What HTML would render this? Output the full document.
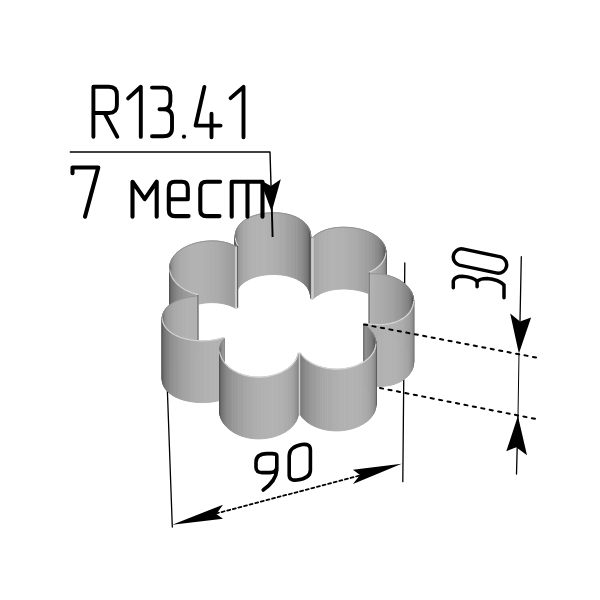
<!DOCTYPE html>
<html><head><meta charset="utf-8"><style>
html,body{margin:0;padding:0;background:#fff;width:600px;height:600px;overflow:hidden;font-family:"Liberation Sans",sans-serif}
svg{display:block}
</style></head><body>
<svg width="600" height="600" viewBox="0 0 600 600">
<rect width="600" height="600" fill="#fff"/>
<g fill="none" stroke="#000" stroke-linecap="round">
<path d="M167 380L172.3 527" stroke-width="1.3"/>
<path d="M404.8 263L402.8 481.7" stroke-width="1.3"/>
</g>
<g id="shape">
<path d="M272.21 274.50L274.06 274.49L274.06 212.75L272.21 212.75Z" fill="#afafaf" stroke="#afafaf" stroke-width="0.9"/>
<path d="M272.21 212.75L274.06 212.75" stroke="#8c8c8c" stroke-width="0.8" stroke-linecap="round" fill="none"/>
<path d="M270.36 274.55L272.21 274.50L272.21 212.75L270.36 212.81Z" fill="#b0b0b0" stroke="#b0b0b0" stroke-width="0.9"/>
<path d="M270.36 212.81L272.21 212.75" stroke="#8c8c8c" stroke-width="0.8" stroke-linecap="round" fill="none"/>
<path d="M274.06 274.49L275.91 274.53L275.91 212.79L274.06 212.75Z" fill="#aeaeae" stroke="#aeaeae" stroke-width="0.9"/>
<path d="M274.06 212.75L275.91 212.79" stroke="#8c8c8c" stroke-width="0.8" stroke-linecap="round" fill="none"/>
<path d="M268.52 274.66L270.36 274.55L270.36 212.81L268.52 212.92Z" fill="#b1b1b1" stroke="#b1b1b1" stroke-width="0.9"/>
<path d="M268.52 212.92L270.36 212.81" stroke="#8c8c8c" stroke-width="0.8" stroke-linecap="round" fill="none"/>
<path d="M275.91 274.53L277.75 274.62L277.75 212.88L275.91 212.79Z" fill="#adadad" stroke="#adadad" stroke-width="0.9"/>
<path d="M275.91 212.79L277.75 212.88" stroke="#8c8c8c" stroke-width="0.8" stroke-linecap="round" fill="none"/>
<path d="M266.68 274.81L268.52 274.66L268.52 212.92L266.68 213.07Z" fill="#b1b1b1" stroke="#b1b1b1" stroke-width="0.9"/>
<path d="M266.68 213.07L268.52 212.92" stroke="#8c8c8c" stroke-width="0.8" stroke-linecap="round" fill="none"/>
<path d="M277.75 274.62L279.59 274.77L279.59 213.02L277.75 212.88Z" fill="#acacac" stroke="#acacac" stroke-width="0.9"/>
<path d="M277.75 212.88L279.59 213.02" stroke="#8c8c8c" stroke-width="0.8" stroke-linecap="round" fill="none"/>
<path d="M264.87 275.02L266.68 274.81L266.68 213.07L264.87 213.27Z" fill="#b2b2b2" stroke="#b2b2b2" stroke-width="0.9"/>
<path d="M264.87 213.27L266.68 213.07" stroke="#8c8c8c" stroke-width="0.8" stroke-linecap="round" fill="none"/>
<path d="M279.59 274.77L281.40 274.96L281.40 213.22L279.59 213.02Z" fill="#ababab" stroke="#ababab" stroke-width="0.9"/>
<path d="M279.59 213.02L281.40 213.22" stroke="#8c8c8c" stroke-width="0.8" stroke-linecap="round" fill="none"/>
<path d="M263.07 275.27L264.87 275.02L264.87 213.27L263.07 213.53Z" fill="#b2b2b2" stroke="#b2b2b2" stroke-width="0.9"/>
<path d="M263.07 213.53L264.87 213.27" stroke="#8c8c8c" stroke-width="0.8" stroke-linecap="round" fill="none"/>
<path d="M281.40 274.96L283.20 275.20L283.20 213.46L281.40 213.22Z" fill="#a9a9a9" stroke="#a9a9a9" stroke-width="0.9"/>
<path d="M281.40 213.22L283.20 213.46" stroke="#8c8c8c" stroke-width="0.8" stroke-linecap="round" fill="none"/>
<path d="M261.30 275.57L263.07 275.27L263.07 213.53L261.30 213.83Z" fill="#b2b2b2" stroke="#b2b2b2" stroke-width="0.9"/>
<path d="M261.30 213.83L263.07 213.53" stroke="#8c8c8c" stroke-width="0.8" stroke-linecap="round" fill="none"/>
<path d="M283.20 275.20L284.97 275.50L284.97 213.75L283.20 213.46Z" fill="#a8a8a8" stroke="#a8a8a8" stroke-width="0.9"/>
<path d="M283.20 213.46L284.97 213.75" stroke="#8c8c8c" stroke-width="0.8" stroke-linecap="round" fill="none"/>
<path d="M259.55 275.92L261.30 275.57L261.30 213.83L259.55 214.18Z" fill="#b2b2b2" stroke="#b2b2b2" stroke-width="0.9"/>
<path d="M259.55 214.18L261.30 213.83" stroke="#8c8c8c" stroke-width="0.8" stroke-linecap="round" fill="none"/>
<path d="M284.97 275.50L286.71 275.84L286.71 214.10L284.97 213.75Z" fill="#a6a6a6" stroke="#a6a6a6" stroke-width="0.9"/>
<path d="M284.97 213.75L286.71 214.10" stroke="#8c8c8c" stroke-width="0.8" stroke-linecap="round" fill="none"/>
<path d="M257.84 276.32L259.55 275.92L259.55 214.18L257.84 214.58Z" fill="#b2b2b2" stroke="#b2b2b2" stroke-width="0.9"/>
<path d="M257.84 214.58L259.55 214.18" stroke="#8c8c8c" stroke-width="0.8" stroke-linecap="round" fill="none"/>
<path d="M286.71 275.84L288.42 276.24L288.42 214.50L286.71 214.10Z" fill="#a4a4a4" stroke="#a4a4a4" stroke-width="0.9"/>
<path d="M286.71 214.10L288.42 214.50" stroke="#8c8c8c" stroke-width="0.8" stroke-linecap="round" fill="none"/>
<path d="M256.17 276.77L257.84 276.32L257.84 214.58L256.17 215.03Z" fill="#b2b2b2" stroke="#b2b2b2" stroke-width="0.9"/>
<path d="M256.17 215.03L257.84 214.58" stroke="#8c8c8c" stroke-width="0.8" stroke-linecap="round" fill="none"/>
<path d="M288.42 276.24L290.09 276.69L290.09 214.95L288.42 214.50Z" fill="#a2a2a2" stroke="#a2a2a2" stroke-width="0.9"/>
<path d="M288.42 214.50L290.09 214.95" stroke="#8c8c8c" stroke-width="0.8" stroke-linecap="round" fill="none"/>
<path d="M254.53 277.27L256.17 276.77L256.17 215.03L254.53 215.52Z" fill="#b2b2b2" stroke="#b2b2b2" stroke-width="0.9"/>
<path d="M254.53 215.52L256.17 215.03" stroke="#8c8c8c" stroke-width="0.8" stroke-linecap="round" fill="none"/>
<path d="M290.09 276.69L291.72 277.19L291.72 215.45L290.09 214.95Z" fill="#a0a0a0" stroke="#a0a0a0" stroke-width="0.9"/>
<path d="M290.09 214.95L291.72 215.45" stroke="#8c8c8c" stroke-width="0.8" stroke-linecap="round" fill="none"/>
<path d="M252.94 277.81L254.53 277.27L254.53 215.52L252.94 216.07Z" fill="#b1b1b1" stroke="#b1b1b1" stroke-width="0.9"/>
<path d="M252.94 216.07L254.53 215.52" stroke="#8c8c8c" stroke-width="0.8" stroke-linecap="round" fill="none"/>
<path d="M291.72 277.19L293.31 277.74L293.31 216.00L291.72 215.45Z" fill="#9e9e9e" stroke="#9e9e9e" stroke-width="0.9"/>
<path d="M291.72 215.45L293.31 216.00" stroke="#8c8c8c" stroke-width="0.8" stroke-linecap="round" fill="none"/>
<path d="M251.40 278.41L252.94 277.81L252.94 216.07L251.40 216.67Z" fill="#b1b1b1" stroke="#b1b1b1" stroke-width="0.9"/>
<path d="M251.40 216.67L252.94 216.07" stroke="#8c8c8c" stroke-width="0.8" stroke-linecap="round" fill="none"/>
<path d="M293.31 277.74L294.84 278.34L294.84 216.60L293.31 216.00Z" fill="#9c9c9c" stroke="#9c9c9c" stroke-width="0.9"/>
<path d="M293.31 216.00L294.84 216.60" stroke="#8c8c8c" stroke-width="0.8" stroke-linecap="round" fill="none"/>
<path d="M249.91 279.05L251.40 278.41L251.40 216.67L249.91 217.31Z" fill="#b0b0b0" stroke="#b0b0b0" stroke-width="0.9"/>
<path d="M249.91 217.31L251.40 216.67" stroke="#8c8c8c" stroke-width="0.8" stroke-linecap="round" fill="none"/>
<path d="M294.84 278.34L296.32 279.00L296.32 217.25L294.84 216.60Z" fill="#9a9a9a" stroke="#9a9a9a" stroke-width="0.9"/>
<path d="M294.84 216.60L296.32 217.25" stroke="#8c8c8c" stroke-width="0.8" stroke-linecap="round" fill="none"/>
<path d="M248.48 279.74L249.91 279.05L249.91 217.31L248.48 218.00Z" fill="#afafaf" stroke="#afafaf" stroke-width="0.9"/>
<path d="M248.48 218.00L249.91 217.31" stroke="#8c8c8c" stroke-width="0.8" stroke-linecap="round" fill="none"/>
<path d="M296.32 279.00L297.75 279.70L297.75 217.96L296.32 217.25Z" fill="#979797" stroke="#979797" stroke-width="0.9"/>
<path d="M296.32 217.25L297.75 217.96" stroke="#8c8c8c" stroke-width="0.8" stroke-linecap="round" fill="none"/>
<path d="M247.10 280.48L248.48 279.74L248.48 218.00L247.10 218.74Z" fill="#adadad" stroke="#adadad" stroke-width="0.9"/>
<path d="M247.10 218.74L248.48 218.00" stroke="#8c8c8c" stroke-width="0.8" stroke-linecap="round" fill="none"/>
<path d="M297.75 279.70L299.11 280.45L299.11 218.71L297.75 217.96Z" fill="#949494" stroke="#949494" stroke-width="0.9"/>
<path d="M297.75 217.96L299.11 218.71" stroke="#8c8c8c" stroke-width="0.8" stroke-linecap="round" fill="none"/>
<path d="M245.79 281.26L247.10 280.48L247.10 218.74L245.79 219.52Z" fill="#acacac" stroke="#acacac" stroke-width="0.9"/>
<path d="M245.79 219.52L247.10 218.74" stroke="#8c8c8c" stroke-width="0.8" stroke-linecap="round" fill="none"/>
<path d="M299.11 280.45L300.42 281.24L300.42 219.50L299.11 218.71Z" fill="#929292" stroke="#929292" stroke-width="0.9"/>
<path d="M299.11 218.71L300.42 219.50" stroke="#8c8c8c" stroke-width="0.8" stroke-linecap="round" fill="none"/>
<path d="M244.54 282.09L245.79 281.26L245.79 219.52L244.54 220.35Z" fill="#aaaaaa" stroke="#aaaaaa" stroke-width="0.9"/>
<path d="M244.54 220.35L245.79 219.52" stroke="#8c8c8c" stroke-width="0.8" stroke-linecap="round" fill="none"/>
<path d="M300.42 281.24L301.65 282.08L301.65 220.34L300.42 219.50Z" fill="#8f8f8f" stroke="#8f8f8f" stroke-width="0.9"/>
<path d="M300.42 219.50L301.65 220.34" stroke="#8c8c8c" stroke-width="0.8" stroke-linecap="round" fill="none"/>
<path d="M243.36 282.96L244.54 282.09L244.54 220.35L243.36 221.21Z" fill="#a9a9a9" stroke="#a9a9a9" stroke-width="0.9"/>
<path d="M243.36 221.21L244.54 220.35" stroke="#8c8c8c" stroke-width="0.8" stroke-linecap="round" fill="none"/>
<path d="M301.65 282.08L302.82 282.97L302.82 221.23L301.65 220.34Z" fill="#8c8c8c" stroke="#8c8c8c" stroke-width="0.9"/>
<path d="M301.65 220.34L302.82 221.23" stroke="#8c8c8c" stroke-width="0.8" stroke-linecap="round" fill="none"/>
<path d="M242.25 283.87L243.36 282.96L243.36 221.21L242.25 222.13Z" fill="#a7a7a7" stroke="#a7a7a7" stroke-width="0.9"/>
<path d="M242.25 222.13L243.36 221.21" stroke="#8c8c8c" stroke-width="0.8" stroke-linecap="round" fill="none"/>
<path d="M302.82 282.97L303.91 283.89L303.91 222.15L302.82 221.23Z" fill="#888888" stroke="#888888" stroke-width="0.9"/>
<path d="M302.82 221.23L303.91 222.15" stroke="#8c8c8c" stroke-width="0.8" stroke-linecap="round" fill="none"/>
<path d="M241.21 284.82L242.25 283.87L242.25 222.13L241.21 223.08Z" fill="#a4a4a4" stroke="#a4a4a4" stroke-width="0.9"/>
<path d="M241.21 223.08L242.25 222.13" stroke="#8c8c8c" stroke-width="0.8" stroke-linecap="round" fill="none"/>
<path d="M303.91 283.89L304.93 284.86L304.93 223.11L303.91 222.15Z" fill="#858585" stroke="#858585" stroke-width="0.9"/>
<path d="M303.91 222.15L304.93 223.11" stroke="#8c8c8c" stroke-width="0.8" stroke-linecap="round" fill="none"/>
<path d="M240.25 285.81L241.21 284.82L241.21 223.08L240.25 224.06Z" fill="#a2a2a2" stroke="#a2a2a2" stroke-width="0.9"/>
<path d="M240.25 224.06L241.21 223.08" stroke="#8c8c8c" stroke-width="0.8" stroke-linecap="round" fill="none"/>
<path d="M304.93 284.86L305.87 285.85L305.87 224.11L304.93 223.11Z" fill="#818181" stroke="#818181" stroke-width="0.9"/>
<path d="M304.93 223.11L305.87 224.11" stroke="#8c8c8c" stroke-width="0.8" stroke-linecap="round" fill="none"/>
<path d="M239.37 286.83L240.25 285.81L240.25 224.06L239.37 225.09Z" fill="#9f9f9f" stroke="#9f9f9f" stroke-width="0.9"/>
<path d="M239.37 225.09L240.25 224.06" stroke="#8c8c8c" stroke-width="0.8" stroke-linecap="round" fill="none"/>
<path d="M305.87 285.85L306.74 286.88L306.74 225.14L305.87 224.11Z" fill="#7d7d7d" stroke="#7d7d7d" stroke-width="0.9"/>
<path d="M305.87 224.11L306.74 225.14" stroke="#8c8c8c" stroke-width="0.8" stroke-linecap="round" fill="none"/>
<path d="M238.57 287.89L239.37 286.83L239.37 225.09L238.57 226.14Z" fill="#9c9c9c" stroke="#9c9c9c" stroke-width="0.9"/>
<path d="M238.57 226.14L239.37 225.09" stroke="#8c8c8c" stroke-width="0.8" stroke-linecap="round" fill="none"/>
<path d="M306.74 286.88L307.52 287.95L307.52 226.20L306.74 225.14Z" fill="#797979" stroke="#797979" stroke-width="0.9"/>
<path d="M306.74 225.14L307.52 226.20" stroke="#8c8c8c" stroke-width="0.8" stroke-linecap="round" fill="none"/>
<path d="M345.20 289.03L347.13 289.10L347.13 227.36L345.20 227.29Z" fill="#b0b0b0" stroke="#b0b0b0" stroke-width="0.9"/>
<path d="M345.20 227.29L347.13 227.36" stroke="#8c8c8c" stroke-width="0.8" stroke-linecap="round" fill="none"/>
<path d="M347.13 289.10L349.05 289.22L349.05 227.48L347.13 227.36Z" fill="#afafaf" stroke="#afafaf" stroke-width="0.9"/>
<path d="M347.13 227.36L349.05 227.48" stroke="#8c8c8c" stroke-width="0.8" stroke-linecap="round" fill="none"/>
<path d="M343.27 289.01L345.20 289.03L345.20 227.29L343.27 227.27Z" fill="#b0b0b0" stroke="#b0b0b0" stroke-width="0.9"/>
<path d="M343.27 227.27L345.20 227.29" stroke="#8c8c8c" stroke-width="0.8" stroke-linecap="round" fill="none"/>
<path d="M237.85 288.97L238.57 287.89L238.57 226.14L237.85 227.23Z" fill="#989898" stroke="#989898" stroke-width="0.9"/>
<path d="M237.85 227.23L238.57 226.14" stroke="#8c8c8c" stroke-width="0.8" stroke-linecap="round" fill="none"/>
<path d="M349.05 289.22L350.97 289.39L350.97 227.65L349.05 227.48Z" fill="#aeaeae" stroke="#aeaeae" stroke-width="0.9"/>
<path d="M349.05 227.48L350.97 227.65" stroke="#8c8c8c" stroke-width="0.8" stroke-linecap="round" fill="none"/>
<path d="M341.36 289.05L343.27 289.01L343.27 227.27L341.36 227.30Z" fill="#b1b1b1" stroke="#b1b1b1" stroke-width="0.9"/>
<path d="M341.36 227.30L343.27 227.27" stroke="#8c8c8c" stroke-width="0.8" stroke-linecap="round" fill="none"/>
<path d="M350.97 289.39L352.88 289.61L352.88 227.87L350.97 227.65Z" fill="#adadad" stroke="#adadad" stroke-width="0.9"/>
<path d="M350.97 227.65L352.88 227.87" stroke="#8c8c8c" stroke-width="0.8" stroke-linecap="round" fill="none"/>
<path d="M339.45 289.13L341.36 289.05L341.36 227.30L339.45 227.39Z" fill="#b2b2b2" stroke="#b2b2b2" stroke-width="0.9"/>
<path d="M339.45 227.39L341.36 227.30" stroke="#8c8c8c" stroke-width="0.8" stroke-linecap="round" fill="none"/>
<path d="M352.88 289.61L354.78 289.88L354.78 228.14L352.88 227.87Z" fill="#ababab" stroke="#ababab" stroke-width="0.9"/>
<path d="M352.88 227.87L354.78 228.14" stroke="#8c8c8c" stroke-width="0.8" stroke-linecap="round" fill="none"/>
<path d="M337.57 289.27L339.45 289.13L339.45 227.39L337.57 227.53Z" fill="#b2b2b2" stroke="#b2b2b2" stroke-width="0.9"/>
<path d="M337.57 227.53L339.45 227.39" stroke="#8c8c8c" stroke-width="0.8" stroke-linecap="round" fill="none"/>
<path d="M354.78 289.88L356.65 290.20L356.65 228.45L354.78 228.14Z" fill="#aaaaaa" stroke="#aaaaaa" stroke-width="0.9"/>
<path d="M354.78 228.14L356.65 228.45" stroke="#8c8c8c" stroke-width="0.8" stroke-linecap="round" fill="none"/>
<path d="M335.70 289.46L337.57 289.27L337.57 227.53L335.70 227.72Z" fill="#b2b2b2" stroke="#b2b2b2" stroke-width="0.9"/>
<path d="M335.70 227.72L337.57 227.53" stroke="#8c8c8c" stroke-width="0.8" stroke-linecap="round" fill="none"/>
<path d="M307.52 287.95L308.21 289.04L308.21 227.29L307.52 226.20Z" fill="#757575" stroke="#757575" stroke-width="0.9"/>
<path d="M307.52 226.20L308.21 227.29" stroke="#8c8c8c" stroke-width="0.8" stroke-linecap="round" fill="none"/>
<path d="M356.65 290.20L358.50 290.56L358.50 228.82L356.65 228.45Z" fill="#a9a9a9" stroke="#a9a9a9" stroke-width="0.9"/>
<path d="M356.65 228.45L358.50 228.82" stroke="#8c8c8c" stroke-width="0.8" stroke-linecap="round" fill="none"/>
<path d="M333.87 289.71L335.70 289.46L335.70 227.72L333.87 227.97Z" fill="#b2b2b2" stroke="#b2b2b2" stroke-width="0.9"/>
<path d="M333.87 227.97L335.70 227.72" stroke="#8c8c8c" stroke-width="0.8" stroke-linecap="round" fill="none"/>
<path d="M237.22 290.09L237.85 288.97L237.85 227.23L237.22 228.35Z" fill="#949494" stroke="#949494" stroke-width="0.9"/>
<path d="M237.22 228.35L237.85 227.23" stroke="#8c8c8c" stroke-width="0.8" stroke-linecap="round" fill="none"/>
<path d="M358.50 290.56L360.33 290.97L360.33 229.23L358.50 228.82Z" fill="#a7a7a7" stroke="#a7a7a7" stroke-width="0.9"/>
<path d="M358.50 228.82L360.33 229.23" stroke="#8c8c8c" stroke-width="0.8" stroke-linecap="round" fill="none"/>
<path d="M332.06 290.01L333.87 289.71L333.87 227.97L332.06 228.27Z" fill="#b2b2b2" stroke="#b2b2b2" stroke-width="0.9"/>
<path d="M332.06 228.27L333.87 227.97" stroke="#8c8c8c" stroke-width="0.8" stroke-linecap="round" fill="none"/>
<path d="M360.33 290.97L362.12 291.44L362.12 229.69L360.33 229.23Z" fill="#a5a5a5" stroke="#a5a5a5" stroke-width="0.9"/>
<path d="M360.33 229.23L362.12 229.69" stroke="#8c8c8c" stroke-width="0.8" stroke-linecap="round" fill="none"/>
<path d="M330.29 290.37L332.06 290.01L332.06 228.27L330.29 228.63Z" fill="#b2b2b2" stroke="#b2b2b2" stroke-width="0.9"/>
<path d="M330.29 228.63L332.06 228.27" stroke="#8c8c8c" stroke-width="0.8" stroke-linecap="round" fill="none"/>
<path d="M308.21 289.04L308.82 290.15L308.82 228.41L308.21 227.29Z" fill="#707070" stroke="#707070" stroke-width="0.9"/>
<path d="M308.21 227.29L308.82 228.41" stroke="#8c8c8c" stroke-width="0.8" stroke-linecap="round" fill="none"/>
<path d="M362.12 291.44L363.87 291.94L363.87 230.20L362.12 229.69Z" fill="#a3a3a3" stroke="#a3a3a3" stroke-width="0.9"/>
<path d="M362.12 229.69L363.87 230.20" stroke="#8c8c8c" stroke-width="0.8" stroke-linecap="round" fill="none"/>
<path d="M236.67 291.23L237.22 290.09L237.22 228.35L236.67 229.49Z" fill="#909090" stroke="#909090" stroke-width="0.9"/>
<path d="M236.67 229.49L237.22 228.35" stroke="#8c8c8c" stroke-width="0.8" stroke-linecap="round" fill="none"/>
<path d="M328.55 290.78L330.29 290.37L330.29 228.63L328.55 229.04Z" fill="#b2b2b2" stroke="#b2b2b2" stroke-width="0.9"/>
<path d="M328.55 229.04L330.29 228.63" stroke="#8c8c8c" stroke-width="0.8" stroke-linecap="round" fill="none"/>
<path d="M363.87 291.94L365.58 292.50L365.58 230.76L363.87 230.20Z" fill="#a1a1a1" stroke="#a1a1a1" stroke-width="0.9"/>
<path d="M363.87 230.20L365.58 230.76" stroke="#8c8c8c" stroke-width="0.8" stroke-linecap="round" fill="none"/>
<path d="M326.86 291.26L328.55 290.78L328.55 229.04L326.86 229.51Z" fill="#b1b1b1" stroke="#b1b1b1" stroke-width="0.9"/>
<path d="M326.86 229.51L328.55 229.04" stroke="#8c8c8c" stroke-width="0.8" stroke-linecap="round" fill="none"/>
<path d="M308.82 290.15L309.35 291.28L309.35 229.54L308.82 228.41Z" fill="#6a6a6a" stroke="#6a6a6a" stroke-width="0.9"/>
<path d="M308.82 228.41L309.35 229.54" stroke="#8c8c8c" stroke-width="0.8" stroke-linecap="round" fill="none"/>
<path d="M365.58 292.50L367.24 293.10L367.24 231.36L365.58 230.76Z" fill="#9f9f9f" stroke="#9f9f9f" stroke-width="0.9"/>
<path d="M365.58 230.76L367.24 231.36" stroke="#8c8c8c" stroke-width="0.8" stroke-linecap="round" fill="none"/>
<path d="M236.21 292.40L236.67 291.23L236.67 229.49L236.21 230.65Z" fill="#8b8b8b" stroke="#8b8b8b" stroke-width="0.9"/>
<path d="M236.21 230.65L236.67 229.49" stroke="#8c8c8c" stroke-width="0.8" stroke-linecap="round" fill="none"/>
<path d="M325.22 291.78L326.86 291.26L326.86 229.51L325.22 230.04Z" fill="#b1b1b1" stroke="#b1b1b1" stroke-width="0.9"/>
<path d="M325.22 230.04L326.86 229.51" stroke="#8c8c8c" stroke-width="0.8" stroke-linecap="round" fill="none"/>
<path d="M367.24 293.10L368.86 293.75L368.86 232.01L367.24 231.36Z" fill="#9d9d9d" stroke="#9d9d9d" stroke-width="0.9"/>
<path d="M367.24 231.36L368.86 232.01" stroke="#8c8c8c" stroke-width="0.8" stroke-linecap="round" fill="none"/>
<path d="M323.63 292.37L325.22 291.78L325.22 230.04L323.63 230.63Z" fill="#b0b0b0" stroke="#b0b0b0" stroke-width="0.9"/>
<path d="M323.63 230.63L325.22 230.04" stroke="#8c8c8c" stroke-width="0.8" stroke-linecap="round" fill="none"/>
<path d="M309.35 291.28L309.78 292.44L309.78 230.70L309.35 229.54Z" fill="#646464" stroke="#646464" stroke-width="0.9"/>
<path d="M309.35 229.54L309.78 230.70" stroke="#8c8c8c" stroke-width="0.8" stroke-linecap="round" fill="none"/>
<path d="M235.84 293.58L236.21 292.40L236.21 230.65L235.84 231.84Z" fill="#858585" stroke="#858585" stroke-width="0.9"/>
<path d="M235.84 231.84L236.21 230.65" stroke="#8c8c8c" stroke-width="0.8" stroke-linecap="round" fill="none"/>
<path d="M368.86 293.75L370.42 294.45L370.42 232.71L368.86 232.01Z" fill="#9b9b9b" stroke="#9b9b9b" stroke-width="0.9"/>
<path d="M368.86 232.01L370.42 232.71" stroke="#8c8c8c" stroke-width="0.8" stroke-linecap="round" fill="none"/>
<path d="M322.10 293.01L323.63 292.37L323.63 230.63L322.10 231.27Z" fill="#afafaf" stroke="#afafaf" stroke-width="0.9"/>
<path d="M322.10 231.27L323.63 230.63" stroke="#8c8c8c" stroke-width="0.8" stroke-linecap="round" fill="none"/>
<path d="M370.42 294.45L371.92 295.19L371.92 233.45L370.42 232.71Z" fill="#999999" stroke="#999999" stroke-width="0.9"/>
<path d="M370.42 232.71L371.92 233.45" stroke="#8c8c8c" stroke-width="0.8" stroke-linecap="round" fill="none"/>
<path d="M309.78 292.44L310.13 293.61L310.13 231.86L309.78 230.70Z" fill="#5d5d5d" stroke="#5d5d5d" stroke-width="0.9"/>
<path d="M309.78 230.70L310.13 231.86" stroke="#8c8c8c" stroke-width="0.8" stroke-linecap="round" fill="none"/>
<path d="M320.62 293.70L322.10 293.01L322.10 231.27L320.62 231.96Z" fill="#aeaeae" stroke="#aeaeae" stroke-width="0.9"/>
<path d="M320.62 231.96L322.10 231.27" stroke="#8c8c8c" stroke-width="0.8" stroke-linecap="round" fill="none"/>
<path d="M235.55 294.78L235.84 293.58L235.84 231.84L235.55 233.04Z" fill="#7e7e7e" stroke="#7e7e7e" stroke-width="0.9"/>
<path d="M235.55 233.04L235.84 231.84" stroke="#8c8c8c" stroke-width="0.8" stroke-linecap="round" fill="none"/>
<path d="M371.92 295.19L373.37 295.97L373.37 234.23L371.92 233.45Z" fill="#969696" stroke="#969696" stroke-width="0.9"/>
<path d="M371.92 233.45L373.37 234.23" stroke="#8c8c8c" stroke-width="0.8" stroke-linecap="round" fill="none"/>
<path d="M319.21 294.45L320.62 293.70L320.62 231.96L319.21 232.71Z" fill="#adadad" stroke="#adadad" stroke-width="0.9"/>
<path d="M319.21 232.71L320.62 231.96" stroke="#8c8c8c" stroke-width="0.8" stroke-linecap="round" fill="none"/>
<path d="M310.13 293.61L310.39 294.79L310.39 233.05L310.13 231.86Z" fill="#555555" stroke="#555555" stroke-width="0.9"/>
<path d="M310.13 231.86L310.39 233.05" stroke="#8c8c8c" stroke-width="0.8" stroke-linecap="round" fill="none"/>
<path d="M373.37 295.97L374.74 296.80L374.74 235.06L373.37 234.23Z" fill="#939393" stroke="#939393" stroke-width="0.9"/>
<path d="M373.37 234.23L374.74 235.06" stroke="#8c8c8c" stroke-width="0.8" stroke-linecap="round" fill="none"/>
<path d="M235.36 296.00L235.55 294.78L235.55 233.04L235.36 234.26Z" fill="#767676" stroke="#767676" stroke-width="0.9"/>
<path d="M235.36 234.26L235.55 233.04" stroke="#8c8c8c" stroke-width="0.8" stroke-linecap="round" fill="none"/>
<path d="M317.87 295.25L319.21 294.45L319.21 232.71L317.87 233.51Z" fill="#ababab" stroke="#ababab" stroke-width="0.9"/>
<path d="M317.87 233.51L319.21 232.71" stroke="#8c8c8c" stroke-width="0.8" stroke-linecap="round" fill="none"/>
<path d="M374.74 296.80L376.05 297.67L376.05 235.93L374.74 235.06Z" fill="#909090" stroke="#909090" stroke-width="0.9"/>
<path d="M374.74 235.06L376.05 235.93" stroke="#8c8c8c" stroke-width="0.8" stroke-linecap="round" fill="none"/>
<path d="M310.39 294.79L310.55 295.98L310.55 234.24L310.39 233.05Z" fill="#4b4b4b" stroke="#4b4b4b" stroke-width="0.9"/>
<path d="M310.39 233.05L310.55 234.24" stroke="#8c8c8c" stroke-width="0.8" stroke-linecap="round" fill="none"/>
<path d="M316.59 296.10L317.87 295.25L317.87 233.51L316.59 234.36Z" fill="#a9a9a9" stroke="#a9a9a9" stroke-width="0.9"/>
<path d="M316.59 234.36L317.87 233.51" stroke="#8c8c8c" stroke-width="0.8" stroke-linecap="round" fill="none"/>
<path d="M235.25 297.22L235.36 296.00L235.36 234.26L235.25 235.48Z" fill="#6b6b6b" stroke="#6b6b6b" stroke-width="0.9"/>
<path d="M235.25 235.48L235.36 234.26" stroke="#8c8c8c" stroke-width="0.8" stroke-linecap="round" fill="none"/>
<path d="M376.05 297.67L377.29 298.58L377.29 236.83L376.05 235.93Z" fill="#8d8d8d" stroke="#8d8d8d" stroke-width="0.9"/>
<path d="M376.05 235.93L377.29 236.83" stroke="#8c8c8c" stroke-width="0.8" stroke-linecap="round" fill="none"/>
<path d="M315.38 297.00L316.59 296.10L316.59 234.36L315.38 235.25Z" fill="#a7a7a7" stroke="#a7a7a7" stroke-width="0.9"/>
<path d="M315.38 235.25L316.59 234.36" stroke="#8c8c8c" stroke-width="0.8" stroke-linecap="round" fill="none"/>
<path d="M310.55 295.98L310.63 297.18L310.63 235.44L310.55 234.24Z" fill="#3c3c3c" stroke="#3c3c3c" stroke-width="0.9"/>
<path d="M310.55 234.24L310.63 235.44" stroke="#8c8c8c" stroke-width="0.8" stroke-linecap="round" fill="none"/>
<path d="M235.24 298.46L235.25 297.22L235.25 235.48L235.24 236.72Z" fill="#5b5b5b" stroke="#5b5b5b" stroke-width="0.9"/>
<path d="M235.24 236.72L235.25 235.48" stroke="#8c8c8c" stroke-width="0.8" stroke-linecap="round" fill="none"/>
<path d="M377.29 298.58L378.46 299.52L378.46 237.78L377.29 236.83Z" fill="#8a8a8a" stroke="#8a8a8a" stroke-width="0.9"/>
<path d="M377.29 236.83L378.46 237.78" stroke="#8c8c8c" stroke-width="0.8" stroke-linecap="round" fill="none"/>
<path d="M314.25 297.94L315.38 297.00L315.38 235.25L314.25 236.19Z" fill="#a5a5a5" stroke="#a5a5a5" stroke-width="0.9"/>
<path d="M314.25 236.19L315.38 235.25" stroke="#8c8c8c" stroke-width="0.8" stroke-linecap="round" fill="none"/>
<path d="M310.63 297.18L310.61 298.38L310.61 236.64L310.63 235.44Z" fill="#494949" stroke="#494949" stroke-width="0.9"/>
<path d="M310.63 235.44L310.61 236.64" stroke="#d8d8d8" stroke-width="1.1" stroke-linecap="round" fill="none"/>
<path d="M235.31 299.70L235.24 298.46L235.24 236.72L235.31 237.96Z" fill="#2f2f2f" stroke="#2f2f2f" stroke-width="0.9"/>
<path d="M235.31 237.96L235.24 236.72" stroke="#d8d8d8" stroke-width="1.1" stroke-linecap="round" fill="none"/>
<path d="M378.46 299.52L379.55 300.50L379.55 238.76L378.46 237.78Z" fill="#878787" stroke="#878787" stroke-width="0.9"/>
<path d="M378.46 237.78L379.55 238.76" stroke="#8c8c8c" stroke-width="0.8" stroke-linecap="round" fill="none"/>
<path d="M310.63 297.18L310.63 235.44" stroke="#505050" stroke-width="1.0" fill="none"/>
<path d="M313.20 298.92L314.25 297.94L314.25 236.19L313.20 237.18Z" fill="#a3a3a3" stroke="#a3a3a3" stroke-width="0.9"/>
<path d="M313.20 237.18L314.25 236.19" stroke="#8c8c8c" stroke-width="0.8" stroke-linecap="round" fill="none"/>
<path d="M235.24 298.46L235.24 236.72" stroke="#505050" stroke-width="1.0" fill="none"/>
<path d="M310.61 298.38L310.87 298.93L310.87 237.19L310.61 236.64Z" fill="#cdcdcd" stroke="#cdcdcd" stroke-width="0.9"/>
<path d="M310.61 236.64L310.87 237.19" stroke="#8c8c8c" stroke-width="0.8" stroke-linecap="round" fill="none"/>
<path d="M379.55 300.50L380.55 301.52L380.55 239.77L379.55 238.76Z" fill="#838383" stroke="#838383" stroke-width="0.9"/>
<path d="M379.55 238.76L380.55 239.77" stroke="#8c8c8c" stroke-width="0.8" stroke-linecap="round" fill="none"/>
<path d="M312.50 299.27L313.20 298.92L313.20 237.18L312.50 237.53Z" fill="#cdcdcd" stroke="#cdcdcd" stroke-width="0.9"/>
<path d="M312.50 237.53L313.20 237.18" stroke="#8c8c8c" stroke-width="0.8" stroke-linecap="round" fill="none"/>
<path d="M310.87 298.93L311.60 299.28L311.60 237.54L310.87 237.19Z" fill="#cdcdcd" stroke="#cdcdcd" stroke-width="0.9"/>
<path d="M310.87 237.19L311.60 237.54" stroke="#8c8c8c" stroke-width="0.8" stroke-linecap="round" fill="none"/>
<path d="M235.48 300.94L235.31 299.70L235.31 237.96L235.48 239.20Z" fill="#444444" stroke="#444444" stroke-width="0.9"/>
<path d="M235.48 239.20L235.31 237.96" stroke="#d8d8d8" stroke-width="1.1" stroke-linecap="round" fill="none"/>
<path d="M311.60 299.28L312.50 299.27L312.50 237.53L311.60 237.54Z" fill="#cdcdcd" stroke="#cdcdcd" stroke-width="0.9"/>
<path d="M311.60 237.54L312.50 237.53" stroke="#8c8c8c" stroke-width="0.8" stroke-linecap="round" fill="none"/>
<path d="M310.61 298.38L310.61 236.64" stroke="#505050" stroke-width="1.0" fill="none"/>
<path d="M380.55 301.52L381.48 302.56L381.48 240.82L380.55 239.77Z" fill="#808080" stroke="#808080" stroke-width="0.9"/>
<path d="M380.55 239.77L381.48 240.82" stroke="#8c8c8c" stroke-width="0.8" stroke-linecap="round" fill="none"/>
<path d="M235.73 302.18L235.48 300.94L235.48 239.20L235.73 240.43Z" fill="#505050" stroke="#505050" stroke-width="0.9"/>
<path d="M235.73 240.43L235.48 239.20" stroke="#d8d8d8" stroke-width="1.1" stroke-linecap="round" fill="none"/>
<path d="M208.45 302.75L210.42 302.66L210.42 240.92L208.45 241.01Z" fill="#b0b0b0" stroke="#b0b0b0" stroke-width="0.9"/>
<path d="M208.45 241.01L210.42 240.92" stroke="#8c8c8c" stroke-width="0.8" stroke-linecap="round" fill="none"/>
<path d="M210.42 302.66L212.39 302.64L212.39 240.90L210.42 240.92Z" fill="#afafaf" stroke="#afafaf" stroke-width="0.9"/>
<path d="M210.42 240.92L212.39 240.90" stroke="#8c8c8c" stroke-width="0.8" stroke-linecap="round" fill="none"/>
<path d="M206.48 302.90L208.45 302.75L208.45 241.01L206.48 241.16Z" fill="#b0b0b0" stroke="#b0b0b0" stroke-width="0.9"/>
<path d="M206.48 241.16L208.45 241.01" stroke="#8c8c8c" stroke-width="0.8" stroke-linecap="round" fill="none"/>
<path d="M212.39 302.64L214.35 302.68L214.35 240.93L212.39 240.90Z" fill="#aeaeae" stroke="#aeaeae" stroke-width="0.9"/>
<path d="M212.39 240.90L214.35 240.93" stroke="#8c8c8c" stroke-width="0.8" stroke-linecap="round" fill="none"/>
<path d="M204.52 303.12L206.48 302.90L206.48 241.16L204.52 241.37Z" fill="#b1b1b1" stroke="#b1b1b1" stroke-width="0.9"/>
<path d="M204.52 241.37L206.48 241.16" stroke="#8c8c8c" stroke-width="0.8" stroke-linecap="round" fill="none"/>
<path d="M214.35 302.68L216.30 302.78L216.30 241.04L214.35 240.93Z" fill="#acacac" stroke="#acacac" stroke-width="0.9"/>
<path d="M214.35 240.93L216.30 241.04" stroke="#8c8c8c" stroke-width="0.8" stroke-linecap="round" fill="none"/>
<path d="M202.57 303.39L204.52 303.12L204.52 241.37L202.57 241.64Z" fill="#b2b2b2" stroke="#b2b2b2" stroke-width="0.9"/>
<path d="M202.57 241.64L204.52 241.37" stroke="#8c8c8c" stroke-width="0.8" stroke-linecap="round" fill="none"/>
<path d="M381.48 302.56L382.32 303.64L382.32 241.90L381.48 240.82Z" fill="#7c7c7c" stroke="#7c7c7c" stroke-width="0.9"/>
<path d="M381.48 240.82L382.32 241.90" stroke="#8c8c8c" stroke-width="0.8" stroke-linecap="round" fill="none"/>
<path d="M216.30 302.78L218.23 302.95L218.23 241.20L216.30 241.04Z" fill="#ababab" stroke="#ababab" stroke-width="0.9"/>
<path d="M216.30 241.04L218.23 241.20" stroke="#8c8c8c" stroke-width="0.8" stroke-linecap="round" fill="none"/>
<path d="M200.64 303.71L202.57 303.39L202.57 241.64L200.64 241.97Z" fill="#b2b2b2" stroke="#b2b2b2" stroke-width="0.9"/>
<path d="M200.64 241.97L202.57 241.64" stroke="#8c8c8c" stroke-width="0.8" stroke-linecap="round" fill="none"/>
<path d="M218.23 302.95L220.13 303.18L220.13 241.44L218.23 241.20Z" fill="#aaaaaa" stroke="#aaaaaa" stroke-width="0.9"/>
<path d="M218.23 241.20L220.13 241.44" stroke="#8c8c8c" stroke-width="0.8" stroke-linecap="round" fill="none"/>
<path d="M198.74 304.10L200.64 303.71L200.64 241.97L198.74 242.36Z" fill="#b2b2b2" stroke="#b2b2b2" stroke-width="0.9"/>
<path d="M198.74 242.36L200.64 241.97" stroke="#8c8c8c" stroke-width="0.8" stroke-linecap="round" fill="none"/>
<path d="M236.07 303.41L235.73 302.18L235.73 240.43L236.07 241.67Z" fill="#595959" stroke="#595959" stroke-width="0.9"/>
<path d="M236.07 241.67L235.73 240.43" stroke="#d8d8d8" stroke-width="1.1" stroke-linecap="round" fill="none"/>
<path d="M220.13 303.18L222.01 303.48L222.01 241.74L220.13 241.44Z" fill="#a8a8a8" stroke="#a8a8a8" stroke-width="0.9"/>
<path d="M220.13 241.44L222.01 241.74" stroke="#8c8c8c" stroke-width="0.8" stroke-linecap="round" fill="none"/>
<path d="M196.86 304.54L198.74 304.10L198.74 242.36L196.86 242.79Z" fill="#b2b2b2" stroke="#b2b2b2" stroke-width="0.9"/>
<path d="M196.86 242.79L198.74 242.36" stroke="#8c8c8c" stroke-width="0.8" stroke-linecap="round" fill="none"/>
<path d="M222.01 303.48L223.85 303.84L223.85 242.10L222.01 241.74Z" fill="#a7a7a7" stroke="#a7a7a7" stroke-width="0.9"/>
<path d="M222.01 241.74L223.85 242.10" stroke="#8c8c8c" stroke-width="0.8" stroke-linecap="round" fill="none"/>
<path d="M195.01 305.03L196.86 304.54L196.86 242.79L195.01 243.29Z" fill="#b2b2b2" stroke="#b2b2b2" stroke-width="0.9"/>
<path d="M195.01 243.29L196.86 242.79" stroke="#8c8c8c" stroke-width="0.8" stroke-linecap="round" fill="none"/>
<path d="M382.32 303.64L383.08 304.74L383.08 243.00L382.32 241.90Z" fill="#777777" stroke="#777777" stroke-width="0.9"/>
<path d="M382.32 241.90L383.08 243.00" stroke="#8c8c8c" stroke-width="0.8" stroke-linecap="round" fill="none"/>
<path d="M223.85 303.84L225.65 304.27L225.65 242.53L223.85 242.10Z" fill="#a5a5a5" stroke="#a5a5a5" stroke-width="0.9"/>
<path d="M223.85 242.10L225.65 242.53" stroke="#8c8c8c" stroke-width="0.8" stroke-linecap="round" fill="none"/>
<path d="M193.20 305.57L195.01 305.03L195.01 243.29L193.20 243.83Z" fill="#b2b2b2" stroke="#b2b2b2" stroke-width="0.9"/>
<path d="M193.20 243.83L195.01 243.29" stroke="#8c8c8c" stroke-width="0.8" stroke-linecap="round" fill="none"/>
<path d="M236.49 304.63L236.07 303.41L236.07 241.67L236.49 242.89Z" fill="#616161" stroke="#616161" stroke-width="0.9"/>
<path d="M236.49 242.89L236.07 241.67" stroke="#d8d8d8" stroke-width="1.1" stroke-linecap="round" fill="none"/>
<path d="M225.65 304.27L227.41 304.76L227.41 243.01L225.65 242.53Z" fill="#a3a3a3" stroke="#a3a3a3" stroke-width="0.9"/>
<path d="M225.65 242.53L227.41 243.01" stroke="#8c8c8c" stroke-width="0.8" stroke-linecap="round" fill="none"/>
<path d="M191.44 306.17L193.20 305.57L193.20 243.83L191.44 244.43Z" fill="#b2b2b2" stroke="#b2b2b2" stroke-width="0.9"/>
<path d="M191.44 244.43L193.20 243.83" stroke="#8c8c8c" stroke-width="0.8" stroke-linecap="round" fill="none"/>
<path d="M383.08 304.74L383.75 305.86L383.75 244.12L383.08 243.00Z" fill="#737373" stroke="#737373" stroke-width="0.9"/>
<path d="M383.08 243.00L383.75 244.12" stroke="#8c8c8c" stroke-width="0.8" stroke-linecap="round" fill="none"/>
<path d="M227.41 304.76L229.12 305.31L229.12 243.57L227.41 243.01Z" fill="#a1a1a1" stroke="#a1a1a1" stroke-width="0.9"/>
<path d="M227.41 243.01L229.12 243.57" stroke="#8c8c8c" stroke-width="0.8" stroke-linecap="round" fill="none"/>
<path d="M189.71 306.81L191.44 306.17L191.44 244.43L189.71 245.07Z" fill="#b2b2b2" stroke="#b2b2b2" stroke-width="0.9"/>
<path d="M189.71 245.07L191.44 244.43" stroke="#8c8c8c" stroke-width="0.8" stroke-linecap="round" fill="none"/>
<path d="M237.00 305.85L236.49 304.63L236.49 242.89L237.00 244.10Z" fill="#676767" stroke="#676767" stroke-width="0.9"/>
<path d="M237.00 244.10L236.49 242.89" stroke="#d8d8d8" stroke-width="1.1" stroke-linecap="round" fill="none"/>
<path d="M229.12 305.31L230.77 305.92L230.77 244.18L229.12 243.57Z" fill="#9f9f9f" stroke="#9f9f9f" stroke-width="0.9"/>
<path d="M229.12 243.57L230.77 244.18" stroke="#8c8c8c" stroke-width="0.8" stroke-linecap="round" fill="none"/>
<path d="M188.04 307.51L189.71 306.81L189.71 245.07L188.04 245.76Z" fill="#b1b1b1" stroke="#b1b1b1" stroke-width="0.9"/>
<path d="M188.04 245.76L189.71 245.07" stroke="#8c8c8c" stroke-width="0.8" stroke-linecap="round" fill="none"/>
<path d="M383.75 305.86L384.32 307.01L384.32 245.27L383.75 244.12Z" fill="#6d6d6d" stroke="#6d6d6d" stroke-width="0.9"/>
<path d="M383.75 244.12L384.32 245.27" stroke="#8c8c8c" stroke-width="0.8" stroke-linecap="round" fill="none"/>
<path d="M230.77 305.92L232.38 306.59L232.38 244.85L230.77 244.18Z" fill="#9d9d9d" stroke="#9d9d9d" stroke-width="0.9"/>
<path d="M230.77 244.18L232.38 244.85" stroke="#8c8c8c" stroke-width="0.8" stroke-linecap="round" fill="none"/>
<path d="M186.42 308.25L188.04 307.51L188.04 245.76L186.42 246.50Z" fill="#b0b0b0" stroke="#b0b0b0" stroke-width="0.9"/>
<path d="M186.42 246.50L188.04 245.76" stroke="#8c8c8c" stroke-width="0.8" stroke-linecap="round" fill="none"/>
<path d="M237.60 307.04L237.00 305.85L237.00 244.10L237.60 245.30Z" fill="#6d6d6d" stroke="#6d6d6d" stroke-width="0.9"/>
<path d="M237.60 245.30L237.00 244.10" stroke="#d8d8d8" stroke-width="1.1" stroke-linecap="round" fill="none"/>
<path d="M232.38 306.59L233.92 307.31L233.92 245.57L232.38 244.85Z" fill="#9b9b9b" stroke="#9b9b9b" stroke-width="0.9"/>
<path d="M232.38 244.85L233.92 245.57" stroke="#8c8c8c" stroke-width="0.8" stroke-linecap="round" fill="none"/>
<path d="M184.85 309.03L186.42 308.25L186.42 246.50L184.85 247.29Z" fill="#afafaf" stroke="#afafaf" stroke-width="0.9"/>
<path d="M184.85 247.29L186.42 246.50" stroke="#8c8c8c" stroke-width="0.8" stroke-linecap="round" fill="none"/>
<path d="M384.32 307.01L384.81 308.17L384.81 246.43L384.32 245.27Z" fill="#686868" stroke="#686868" stroke-width="0.9"/>
<path d="M384.32 245.27L384.81 246.43" stroke="#8c8c8c" stroke-width="0.8" stroke-linecap="round" fill="none"/>
<path d="M237.61 307.64L237.60 307.04L237.60 245.30L237.61 245.90Z" fill="#cdcdcd" stroke="#cdcdcd" stroke-width="0.9"/>
<path d="M237.61 245.90L237.60 245.30" stroke="#d8d8d8" stroke-width="1.1" stroke-linecap="round" fill="none"/>
<path d="M233.92 307.31L235.39 308.09L235.39 246.35L233.92 245.57Z" fill="#989898" stroke="#989898" stroke-width="0.9"/>
<path d="M233.92 245.57L235.39 246.35" stroke="#8c8c8c" stroke-width="0.8" stroke-linecap="round" fill="none"/>
<path d="M183.35 309.86L184.85 309.03L184.85 247.29L183.35 248.12Z" fill="#aeaeae" stroke="#aeaeae" stroke-width="0.9"/>
<path d="M183.35 248.12L184.85 247.29" stroke="#8c8c8c" stroke-width="0.8" stroke-linecap="round" fill="none"/>
<path d="M237.08 308.13L237.61 307.64L237.61 245.90L237.08 246.39Z" fill="#cdcdcd" stroke="#cdcdcd" stroke-width="0.9"/>
<path d="M237.08 246.39L237.61 245.90" stroke="#8c8c8c" stroke-width="0.8" stroke-linecap="round" fill="none"/>
<path d="M235.39 308.09L236.23 308.30L236.23 246.56L235.39 246.35Z" fill="#cdcdcd" stroke="#cdcdcd" stroke-width="0.9"/>
<path d="M235.39 246.35L236.23 246.56" stroke="#8c8c8c" stroke-width="0.8" stroke-linecap="round" fill="none"/>
<path d="M236.23 308.30L237.08 308.13L237.08 246.39L236.23 246.56Z" fill="#cdcdcd" stroke="#cdcdcd" stroke-width="0.9"/>
<path d="M236.23 246.56L237.08 246.39" stroke="#8c8c8c" stroke-width="0.8" stroke-linecap="round" fill="none"/>
<path d="M384.81 308.17L385.20 309.35L385.20 247.61L384.81 246.43Z" fill="#616161" stroke="#616161" stroke-width="0.9"/>
<path d="M384.81 246.43L385.20 247.61" stroke="#8c8c8c" stroke-width="0.8" stroke-linecap="round" fill="none"/>
<path d="M181.91 310.73L183.35 309.86L183.35 248.12L181.91 248.99Z" fill="#adadad" stroke="#adadad" stroke-width="0.9"/>
<path d="M181.91 248.99L183.35 248.12" stroke="#8c8c8c" stroke-width="0.8" stroke-linecap="round" fill="none"/>
<path d="M237.61 307.64L237.61 245.90" stroke="#505050" stroke-width="1.0" fill="none"/>
<path d="M180.53 311.64L181.91 310.73L181.91 248.99L180.53 249.90Z" fill="#ababab" stroke="#ababab" stroke-width="0.9"/>
<path d="M180.53 249.90L181.91 248.99" stroke="#8c8c8c" stroke-width="0.8" stroke-linecap="round" fill="none"/>
<path d="M385.20 309.35L385.50 310.54L385.50 248.80L385.20 247.61Z" fill="#5a5a5a" stroke="#5a5a5a" stroke-width="0.9"/>
<path d="M385.20 247.61L385.50 248.80" stroke="#8c8c8c" stroke-width="0.8" stroke-linecap="round" fill="none"/>
<path d="M179.23 312.59L180.53 311.64L180.53 249.90L179.23 250.85Z" fill="#aaaaaa" stroke="#aaaaaa" stroke-width="0.9"/>
<path d="M179.23 250.85L180.53 249.90" stroke="#8c8c8c" stroke-width="0.8" stroke-linecap="round" fill="none"/>
<path d="M385.50 310.54L385.71 311.75L385.71 250.00L385.50 248.80Z" fill="#515151" stroke="#515151" stroke-width="0.9"/>
<path d="M385.50 248.80L385.71 250.00" stroke="#8c8c8c" stroke-width="0.8" stroke-linecap="round" fill="none"/>
<path d="M178.00 313.58L179.23 312.59L179.23 250.85L178.00 251.84Z" fill="#a8a8a8" stroke="#a8a8a8" stroke-width="0.9"/>
<path d="M178.00 251.84L179.23 250.85" stroke="#8c8c8c" stroke-width="0.8" stroke-linecap="round" fill="none"/>
<path d="M385.71 311.75L385.82 312.95L385.82 251.21L385.71 250.00Z" fill="#454545" stroke="#454545" stroke-width="0.9"/>
<path d="M385.71 250.00L385.82 251.21" stroke="#8c8c8c" stroke-width="0.8" stroke-linecap="round" fill="none"/>
<path d="M176.84 314.61L178.00 313.58L178.00 251.84L176.84 252.86Z" fill="#a6a6a6" stroke="#a6a6a6" stroke-width="0.9"/>
<path d="M176.84 252.86L178.00 251.84" stroke="#8c8c8c" stroke-width="0.8" stroke-linecap="round" fill="none"/>
<path d="M385.82 312.95L385.84 314.16L385.84 252.42L385.82 251.21Z" fill="#313131" stroke="#313131" stroke-width="0.9"/>
<path d="M385.82 251.21L385.84 252.42" stroke="#8c8c8c" stroke-width="0.8" stroke-linecap="round" fill="none"/>
<path d="M175.77 315.67L176.84 314.61L176.84 252.86L175.77 253.92Z" fill="#a3a3a3" stroke="#a3a3a3" stroke-width="0.9"/>
<path d="M175.77 253.92L176.84 252.86" stroke="#8c8c8c" stroke-width="0.8" stroke-linecap="round" fill="none"/>
<path d="M174.77 316.76L175.77 315.67L175.77 253.92L174.77 255.02Z" fill="#a1a1a1" stroke="#a1a1a1" stroke-width="0.9"/>
<path d="M174.77 255.02L175.77 253.92" stroke="#8c8c8c" stroke-width="0.8" stroke-linecap="round" fill="none"/>
<path d="M385.84 314.16L385.77 315.38L385.77 253.63L385.84 252.42Z" fill="#595959" stroke="#595959" stroke-width="0.9"/>
<path d="M385.84 252.42L385.77 253.63" stroke="#d8d8d8" stroke-width="1.1" stroke-linecap="round" fill="none"/>
<path d="M385.84 314.16L385.84 252.42" stroke="#505050" stroke-width="1.0" fill="none"/>
<path d="M173.86 317.88L174.77 316.76L174.77 255.02L173.86 256.14Z" fill="#9e9e9e" stroke="#9e9e9e" stroke-width="0.9"/>
<path d="M173.86 256.14L174.77 255.02" stroke="#8c8c8c" stroke-width="0.8" stroke-linecap="round" fill="none"/>
<path d="M385.77 315.38L385.60 316.58L385.60 254.84L385.77 253.63Z" fill="#6a6a6a" stroke="#6a6a6a" stroke-width="0.9"/>
<path d="M385.77 253.63L385.60 254.84" stroke="#d8d8d8" stroke-width="1.1" stroke-linecap="round" fill="none"/>
<path d="M173.03 319.03L173.86 317.88L173.86 256.14L173.03 257.29Z" fill="#9a9a9a" stroke="#9a9a9a" stroke-width="0.9"/>
<path d="M173.03 257.29L173.86 256.14" stroke="#8c8c8c" stroke-width="0.8" stroke-linecap="round" fill="none"/>
<path d="M385.60 316.58L385.33 317.79L385.33 256.04L385.60 254.84Z" fill="#757575" stroke="#757575" stroke-width="0.9"/>
<path d="M385.60 254.84L385.33 256.04" stroke="#d8d8d8" stroke-width="1.1" stroke-linecap="round" fill="none"/>
<path d="M172.28 320.21L173.03 319.03L173.03 257.29L172.28 258.47Z" fill="#979797" stroke="#979797" stroke-width="0.9"/>
<path d="M172.28 258.47L173.03 257.29" stroke="#8c8c8c" stroke-width="0.8" stroke-linecap="round" fill="none"/>
<path d="M385.33 317.79L384.97 318.98L384.97 257.24L385.33 256.04Z" fill="#7e7e7e" stroke="#7e7e7e" stroke-width="0.9"/>
<path d="M385.33 256.04L384.97 257.24" stroke="#d8d8d8" stroke-width="1.1" stroke-linecap="round" fill="none"/>
<path d="M171.63 321.41L172.28 320.21L172.28 258.47L171.63 259.67Z" fill="#939393" stroke="#939393" stroke-width="0.9"/>
<path d="M171.63 259.67L172.28 258.47" stroke="#8c8c8c" stroke-width="0.8" stroke-linecap="round" fill="none"/>
<path d="M384.97 318.98L384.52 320.16L384.52 258.42L384.97 257.24Z" fill="#858585" stroke="#858585" stroke-width="0.9"/>
<path d="M384.97 257.24L384.52 258.42" stroke="#d8d8d8" stroke-width="1.1" stroke-linecap="round" fill="none"/>
<path d="M171.06 322.64L171.63 321.41L171.63 259.67L171.06 260.90Z" fill="#8e8e8e" stroke="#8e8e8e" stroke-width="0.9"/>
<path d="M171.06 260.90L171.63 259.67" stroke="#8c8c8c" stroke-width="0.8" stroke-linecap="round" fill="none"/>
<path d="M384.52 320.16L383.98 321.33L383.98 259.58L384.52 258.42Z" fill="#8b8b8b" stroke="#8b8b8b" stroke-width="0.9"/>
<path d="M384.52 258.42L383.98 259.58" stroke="#d8d8d8" stroke-width="1.1" stroke-linecap="round" fill="none"/>
<path d="M170.59 323.88L171.06 322.64L171.06 260.90L170.59 262.14Z" fill="#898989" stroke="#898989" stroke-width="0.9"/>
<path d="M170.59 262.14L171.06 260.90" stroke="#8c8c8c" stroke-width="0.8" stroke-linecap="round" fill="none"/>
<path d="M383.98 321.33L383.35 322.47L383.35 260.73L383.98 259.58Z" fill="#909090" stroke="#909090" stroke-width="0.9"/>
<path d="M383.98 259.58L383.35 260.73" stroke="#d8d8d8" stroke-width="1.1" stroke-linecap="round" fill="none"/>
<path d="M170.21 325.14L170.59 323.88L170.59 262.14L170.21 263.40Z" fill="#828282" stroke="#828282" stroke-width="0.9"/>
<path d="M170.21 263.40L170.59 262.14" stroke="#8c8c8c" stroke-width="0.8" stroke-linecap="round" fill="none"/>
<path d="M383.35 322.47L382.64 323.60L382.64 261.86L383.35 260.73Z" fill="#949494" stroke="#949494" stroke-width="0.9"/>
<path d="M383.35 260.73L382.64 261.86" stroke="#d8d8d8" stroke-width="1.1" stroke-linecap="round" fill="none"/>
<path d="M169.92 326.42L170.21 325.14L170.21 263.40L169.92 264.68Z" fill="#7b7b7b" stroke="#7b7b7b" stroke-width="0.9"/>
<path d="M169.92 264.68L170.21 263.40" stroke="#8c8c8c" stroke-width="0.8" stroke-linecap="round" fill="none"/>
<path d="M382.64 323.60L381.83 324.70L381.83 262.96L382.64 261.86Z" fill="#989898" stroke="#989898" stroke-width="0.9"/>
<path d="M382.64 261.86L381.83 262.96" stroke="#d8d8d8" stroke-width="1.1" stroke-linecap="round" fill="none"/>
<path d="M169.73 327.70L169.92 326.42L169.92 264.68L169.73 265.96Z" fill="#727272" stroke="#727272" stroke-width="0.9"/>
<path d="M169.73 265.96L169.92 264.68" stroke="#8c8c8c" stroke-width="0.8" stroke-linecap="round" fill="none"/>
<path d="M381.83 324.70L380.94 325.78L380.94 264.04L381.83 262.96Z" fill="#9c9c9c" stroke="#9c9c9c" stroke-width="0.9"/>
<path d="M381.83 262.96L380.94 264.04" stroke="#d8d8d8" stroke-width="1.1" stroke-linecap="round" fill="none"/>
<path d="M169.63 329.00L169.73 327.70L169.73 265.96L169.63 267.26Z" fill="#656565" stroke="#656565" stroke-width="0.9"/>
<path d="M169.63 267.26L169.73 265.96" stroke="#8c8c8c" stroke-width="0.8" stroke-linecap="round" fill="none"/>
<path d="M380.94 325.78L379.98 326.83L379.98 265.09L380.94 264.04Z" fill="#9f9f9f" stroke="#9f9f9f" stroke-width="0.9"/>
<path d="M380.94 264.04L379.98 265.09" stroke="#d8d8d8" stroke-width="1.1" stroke-linecap="round" fill="none"/>
<path d="M169.63 330.30L169.63 329.00L169.63 267.26L169.63 268.56Z" fill="#4d4d4d" stroke="#4d4d4d" stroke-width="0.9"/>
<path d="M169.63 268.56L169.63 267.26" stroke="#8c8c8c" stroke-width="0.8" stroke-linecap="round" fill="none"/>
<path d="M379.98 326.83L378.93 327.84L378.93 266.10L379.98 265.09Z" fill="#a2a2a2" stroke="#a2a2a2" stroke-width="0.9"/>
<path d="M379.98 265.09L378.93 266.10" stroke="#d8d8d8" stroke-width="1.1" stroke-linecap="round" fill="none"/>
<path d="M378.93 327.84L377.80 328.82L377.80 267.08L378.93 266.10Z" fill="#a4a4a4" stroke="#a4a4a4" stroke-width="0.9"/>
<path d="M378.93 266.10L377.80 267.08" stroke="#d8d8d8" stroke-width="1.1" stroke-linecap="round" fill="none"/>
<path d="M169.72 331.61L169.63 330.30L169.63 268.56L169.72 269.87Z" fill="#3a3a3a" stroke="#3a3a3a" stroke-width="0.9"/>
<path d="M169.72 269.87L169.63 268.56" stroke="#d8d8d8" stroke-width="1.1" stroke-linecap="round" fill="none"/>
<path d="M169.63 330.30L169.63 268.56" stroke="#505050" stroke-width="1.0" fill="none"/>
<path d="M377.80 328.82L376.61 329.77L376.61 268.02L377.80 267.08Z" fill="#a6a6a6" stroke="#a6a6a6" stroke-width="0.9"/>
<path d="M377.80 267.08L376.61 268.02" stroke="#d8d8d8" stroke-width="1.1" stroke-linecap="round" fill="none"/>
<path d="M169.91 332.92L169.72 331.61L169.72 269.87L169.91 271.17Z" fill="#4a4a4a" stroke="#4a4a4a" stroke-width="0.9"/>
<path d="M169.91 271.17L169.72 269.87" stroke="#d8d8d8" stroke-width="1.1" stroke-linecap="round" fill="none"/>
<path d="M376.61 329.77L375.34 330.67L375.34 268.93L376.61 268.02Z" fill="#a8a8a8" stroke="#a8a8a8" stroke-width="0.9"/>
<path d="M376.61 268.02L375.34 268.93" stroke="#d8d8d8" stroke-width="1.1" stroke-linecap="round" fill="none"/>
<path d="M170.20 334.22L169.91 332.92L169.91 271.17L170.20 272.48Z" fill="#555555" stroke="#555555" stroke-width="0.9"/>
<path d="M170.20 272.48L169.91 271.17" stroke="#d8d8d8" stroke-width="1.1" stroke-linecap="round" fill="none"/>
<path d="M375.34 330.67L374.00 331.53L374.00 269.79L375.34 268.93Z" fill="#aaaaaa" stroke="#aaaaaa" stroke-width="0.9"/>
<path d="M375.34 268.93L374.00 269.79" stroke="#d8d8d8" stroke-width="1.1" stroke-linecap="round" fill="none"/>
<path d="M374.00 331.53L372.61 332.35L372.61 270.61L374.00 269.79Z" fill="#acacac" stroke="#acacac" stroke-width="0.9"/>
<path d="M374.00 269.79L372.61 270.61" stroke="#d8d8d8" stroke-width="1.1" stroke-linecap="round" fill="none"/>
<path d="M170.57 335.52L170.20 334.22L170.20 272.48L170.57 273.78Z" fill="#5d5d5d" stroke="#5d5d5d" stroke-width="0.9"/>
<path d="M170.57 273.78L170.20 272.48" stroke="#d8d8d8" stroke-width="1.1" stroke-linecap="round" fill="none"/>
<path d="M372.61 332.35L371.15 333.13L371.15 271.39L372.61 270.61Z" fill="#adadad" stroke="#adadad" stroke-width="0.9"/>
<path d="M372.61 270.61L371.15 271.39" stroke="#d8d8d8" stroke-width="1.1" stroke-linecap="round" fill="none"/>
<path d="M171.05 336.82L170.57 335.52L170.57 273.78L171.05 275.07Z" fill="#646464" stroke="#646464" stroke-width="0.9"/>
<path d="M171.05 275.07L170.57 273.78" stroke="#d8d8d8" stroke-width="1.1" stroke-linecap="round" fill="none"/>
<path d="M371.15 333.13L369.63 333.86L369.63 272.12L371.15 271.39Z" fill="#afafaf" stroke="#afafaf" stroke-width="0.9"/>
<path d="M371.15 271.39L369.63 272.12" stroke="#d8d8d8" stroke-width="1.1" stroke-linecap="round" fill="none"/>
<path d="M369.63 333.86L369.11 334.33L369.11 272.59L369.63 272.12Z" fill="#cdcdcd" stroke="#cdcdcd" stroke-width="0.9"/>
<path d="M369.63 272.12L369.11 272.59" stroke="#d8d8d8" stroke-width="1.1" stroke-linecap="round" fill="none"/>
<path d="M171.61 338.10L171.05 336.82L171.05 275.07L171.61 276.36Z" fill="#6a6a6a" stroke="#6a6a6a" stroke-width="0.9"/>
<path d="M171.61 276.36L171.05 275.07" stroke="#d8d8d8" stroke-width="1.1" stroke-linecap="round" fill="none"/>
<path d="M369.11 334.33L369.14 334.91L369.14 273.17L369.11 272.59Z" fill="#cdcdcd" stroke="#cdcdcd" stroke-width="0.9"/>
<path d="M369.11 272.59L369.14 273.17" stroke="#8c8c8c" stroke-width="0.8" stroke-linecap="round" fill="none"/>
<path d="M369.14 334.91L369.73 335.36L369.73 273.62L369.14 273.17Z" fill="#cdcdcd" stroke="#cdcdcd" stroke-width="0.9"/>
<path d="M369.14 273.17L369.73 273.62" stroke="#8c8c8c" stroke-width="0.8" stroke-linecap="round" fill="none"/>
<path d="M374.43 335.43L376.34 335.49L376.34 273.74L374.43 273.69Z" fill="#afafaf" stroke="#afafaf" stroke-width="0.9"/>
<path d="M374.43 273.69L376.34 273.74" stroke="#8c8c8c" stroke-width="0.8" stroke-linecap="round" fill="none"/>
<path d="M372.52 335.44L374.43 335.43L374.43 273.69L372.52 273.69Z" fill="#b0b0b0" stroke="#b0b0b0" stroke-width="0.9"/>
<path d="M372.52 273.69L374.43 273.69" stroke="#8c8c8c" stroke-width="0.8" stroke-linecap="round" fill="none"/>
<path d="M376.34 335.49L378.24 335.61L378.24 273.86L376.34 273.74Z" fill="#aeaeae" stroke="#aeaeae" stroke-width="0.9"/>
<path d="M376.34 273.74L378.24 273.86" stroke="#8c8c8c" stroke-width="0.8" stroke-linecap="round" fill="none"/>
<path d="M369.73 335.36L370.61 335.51L370.61 273.76L369.73 273.62Z" fill="#cdcdcd" stroke="#cdcdcd" stroke-width="0.9"/>
<path d="M369.73 273.62L370.61 273.76" stroke="#8c8c8c" stroke-width="0.8" stroke-linecap="round" fill="none"/>
<path d="M370.61 335.51L372.52 335.44L372.52 273.69L370.61 273.76Z" fill="#b1b1b1" stroke="#b1b1b1" stroke-width="0.9"/>
<path d="M370.61 273.76L372.52 273.69" stroke="#8c8c8c" stroke-width="0.8" stroke-linecap="round" fill="none"/>
<path d="M369.11 334.33L369.11 272.59" stroke="#505050" stroke-width="1.0" fill="none"/>
<path d="M172.27 339.37L171.61 338.10L171.61 276.36L172.27 277.63Z" fill="#6f6f6f" stroke="#6f6f6f" stroke-width="0.9"/>
<path d="M172.27 277.63L171.61 276.36" stroke="#d8d8d8" stroke-width="1.1" stroke-linecap="round" fill="none"/>
<path d="M378.24 335.61L380.14 335.79L380.14 274.05L378.24 273.86Z" fill="#adadad" stroke="#adadad" stroke-width="0.9"/>
<path d="M378.24 273.86L380.14 274.05" stroke="#8c8c8c" stroke-width="0.8" stroke-linecap="round" fill="none"/>
<path d="M380.14 335.79L382.02 336.03L382.02 274.29L380.14 274.05Z" fill="#acacac" stroke="#acacac" stroke-width="0.9"/>
<path d="M380.14 274.05L382.02 274.29" stroke="#8c8c8c" stroke-width="0.8" stroke-linecap="round" fill="none"/>
<path d="M382.02 336.03L383.88 336.34L383.88 274.60L382.02 274.29Z" fill="#ababab" stroke="#ababab" stroke-width="0.9"/>
<path d="M382.02 274.29L383.88 274.60" stroke="#8c8c8c" stroke-width="0.8" stroke-linecap="round" fill="none"/>
<path d="M383.88 336.34L385.72 336.70L385.72 274.96L383.88 274.60Z" fill="#a9a9a9" stroke="#a9a9a9" stroke-width="0.9"/>
<path d="M383.88 274.60L385.72 274.96" stroke="#8c8c8c" stroke-width="0.8" stroke-linecap="round" fill="none"/>
<path d="M385.72 336.70L387.53 337.13L387.53 275.39L385.72 274.96Z" fill="#a8a8a8" stroke="#a8a8a8" stroke-width="0.9"/>
<path d="M385.72 274.96L387.53 275.39" stroke="#8c8c8c" stroke-width="0.8" stroke-linecap="round" fill="none"/>
<path d="M173.02 340.62L172.27 339.37L172.27 277.63L173.02 278.88Z" fill="#747474" stroke="#747474" stroke-width="0.9"/>
<path d="M173.02 278.88L172.27 277.63" stroke="#d8d8d8" stroke-width="1.1" stroke-linecap="round" fill="none"/>
<path d="M387.53 337.13L389.30 337.62L389.30 275.87L387.53 275.39Z" fill="#a6a6a6" stroke="#a6a6a6" stroke-width="0.9"/>
<path d="M387.53 275.39L389.30 275.87" stroke="#8c8c8c" stroke-width="0.8" stroke-linecap="round" fill="none"/>
<path d="M389.30 337.62L391.04 338.16L391.04 276.42L389.30 275.87Z" fill="#a4a4a4" stroke="#a4a4a4" stroke-width="0.9"/>
<path d="M389.30 275.87L391.04 276.42" stroke="#8c8c8c" stroke-width="0.8" stroke-linecap="round" fill="none"/>
<path d="M173.86 341.85L173.02 340.62L173.02 278.88L173.86 280.11Z" fill="#797979" stroke="#797979" stroke-width="0.9"/>
<path d="M173.86 280.11L173.02 278.88" stroke="#d8d8d8" stroke-width="1.1" stroke-linecap="round" fill="none"/>
<path d="M391.04 338.16L392.74 338.76L392.74 277.01L391.04 276.42Z" fill="#a3a3a3" stroke="#a3a3a3" stroke-width="0.9"/>
<path d="M391.04 276.42L392.74 277.01" stroke="#8c8c8c" stroke-width="0.8" stroke-linecap="round" fill="none"/>
<path d="M392.74 338.76L394.40 339.41L394.40 277.67L392.74 277.01Z" fill="#a1a1a1" stroke="#a1a1a1" stroke-width="0.9"/>
<path d="M392.74 277.01L394.40 277.67" stroke="#8c8c8c" stroke-width="0.8" stroke-linecap="round" fill="none"/>
<path d="M174.78 343.06L173.86 341.85L173.86 280.11L174.78 281.32Z" fill="#7d7d7d" stroke="#7d7d7d" stroke-width="0.9"/>
<path d="M174.78 281.32L173.86 280.11" stroke="#d8d8d8" stroke-width="1.1" stroke-linecap="round" fill="none"/>
<path d="M394.40 339.41L396.01 340.11L396.01 278.37L394.40 277.67Z" fill="#9e9e9e" stroke="#9e9e9e" stroke-width="0.9"/>
<path d="M394.40 277.67L396.01 278.37" stroke="#8c8c8c" stroke-width="0.8" stroke-linecap="round" fill="none"/>
<path d="M396.01 340.11L397.56 340.87L397.56 279.13L396.01 278.37Z" fill="#9c9c9c" stroke="#9c9c9c" stroke-width="0.9"/>
<path d="M396.01 278.37L397.56 279.13" stroke="#8c8c8c" stroke-width="0.8" stroke-linecap="round" fill="none"/>
<path d="M175.80 344.24L174.78 343.06L174.78 281.32L175.80 282.50Z" fill="#818181" stroke="#818181" stroke-width="0.9"/>
<path d="M175.80 282.50L174.78 281.32" stroke="#d8d8d8" stroke-width="1.1" stroke-linecap="round" fill="none"/>
<path d="M397.56 340.87L399.06 341.67L399.06 279.93L397.56 279.13Z" fill="#9a9a9a" stroke="#9a9a9a" stroke-width="0.9"/>
<path d="M397.56 279.13L399.06 279.93" stroke="#8c8c8c" stroke-width="0.8" stroke-linecap="round" fill="none"/>
<path d="M176.89 345.39L175.80 344.24L175.80 282.50L176.89 283.65Z" fill="#858585" stroke="#858585" stroke-width="0.9"/>
<path d="M176.89 283.65L175.80 282.50" stroke="#d8d8d8" stroke-width="1.1" stroke-linecap="round" fill="none"/>
<path d="M399.06 341.67L400.50 342.52L400.50 280.78L399.06 279.93Z" fill="#979797" stroke="#979797" stroke-width="0.9"/>
<path d="M399.06 279.93L400.50 280.78" stroke="#8c8c8c" stroke-width="0.8" stroke-linecap="round" fill="none"/>
<path d="M178.06 346.50L176.89 345.39L176.89 283.65L178.06 284.76Z" fill="#888888" stroke="#888888" stroke-width="0.9"/>
<path d="M178.06 284.76L176.89 283.65" stroke="#d8d8d8" stroke-width="1.1" stroke-linecap="round" fill="none"/>
<path d="M400.50 342.52L401.88 343.42L401.88 281.67L400.50 280.78Z" fill="#959595" stroke="#959595" stroke-width="0.9"/>
<path d="M400.50 280.78L401.88 281.67" stroke="#8c8c8c" stroke-width="0.8" stroke-linecap="round" fill="none"/>
<path d="M401.88 343.42L403.20 344.35L403.20 282.61L401.88 281.67Z" fill="#929292" stroke="#929292" stroke-width="0.9"/>
<path d="M401.88 281.67L403.20 282.61" stroke="#8c8c8c" stroke-width="0.8" stroke-linecap="round" fill="none"/>
<path d="M179.32 347.58L178.06 346.50L178.06 284.76L179.32 285.84Z" fill="#8b8b8b" stroke="#8b8b8b" stroke-width="0.9"/>
<path d="M179.32 285.84L178.06 284.76" stroke="#d8d8d8" stroke-width="1.1" stroke-linecap="round" fill="none"/>
<path d="M403.20 344.35L404.45 345.33L404.45 283.59L403.20 282.61Z" fill="#8f8f8f" stroke="#8f8f8f" stroke-width="0.9"/>
<path d="M403.20 282.61L404.45 283.59" stroke="#8c8c8c" stroke-width="0.8" stroke-linecap="round" fill="none"/>
<path d="M180.64 348.62L179.32 347.58L179.32 285.84L180.64 286.88Z" fill="#8f8f8f" stroke="#8f8f8f" stroke-width="0.9"/>
<path d="M180.64 286.88L179.32 285.84" stroke="#d8d8d8" stroke-width="1.1" stroke-linecap="round" fill="none"/>
<path d="M404.45 345.33L405.63 346.35L405.63 284.60L404.45 283.59Z" fill="#8c8c8c" stroke="#8c8c8c" stroke-width="0.9"/>
<path d="M404.45 283.59L405.63 284.60" stroke="#8c8c8c" stroke-width="0.8" stroke-linecap="round" fill="none"/>
<path d="M182.04 349.61L180.64 348.62L180.64 286.88L182.04 287.87Z" fill="#919191" stroke="#919191" stroke-width="0.9"/>
<path d="M182.04 287.87L180.64 286.88" stroke="#d8d8d8" stroke-width="1.1" stroke-linecap="round" fill="none"/>
<path d="M405.63 346.35L406.73 347.40L406.73 285.65L405.63 284.60Z" fill="#898989" stroke="#898989" stroke-width="0.9"/>
<path d="M405.63 284.60L406.73 285.65" stroke="#8c8c8c" stroke-width="0.8" stroke-linecap="round" fill="none"/>
<path d="M183.50 350.55L182.04 349.61L182.04 287.87L183.50 288.81Z" fill="#949494" stroke="#949494" stroke-width="0.9"/>
<path d="M183.50 288.81L182.04 287.87" stroke="#d8d8d8" stroke-width="1.1" stroke-linecap="round" fill="none"/>
<path d="M185.02 351.44L183.50 350.55L183.50 288.81L185.02 289.70Z" fill="#979797" stroke="#979797" stroke-width="0.9"/>
<path d="M185.02 289.70L183.50 288.81" stroke="#d8d8d8" stroke-width="1.1" stroke-linecap="round" fill="none"/>
<path d="M406.73 347.40L407.76 348.48L407.76 286.74L406.73 285.65Z" fill="#858585" stroke="#858585" stroke-width="0.9"/>
<path d="M406.73 285.65L407.76 286.74" stroke="#8c8c8c" stroke-width="0.8" stroke-linecap="round" fill="none"/>
<path d="M186.60 352.28L185.02 351.44L185.02 289.70L186.60 290.53Z" fill="#999999" stroke="#999999" stroke-width="0.9"/>
<path d="M186.60 290.53L185.02 289.70" stroke="#d8d8d8" stroke-width="1.1" stroke-linecap="round" fill="none"/>
<path d="M407.76 348.48L408.72 349.59L408.72 287.85L407.76 286.74Z" fill="#828282" stroke="#828282" stroke-width="0.9"/>
<path d="M407.76 286.74L408.72 287.85" stroke="#8c8c8c" stroke-width="0.8" stroke-linecap="round" fill="none"/>
<path d="M188.24 353.05L186.60 352.28L186.60 290.53L188.24 291.31Z" fill="#9c9c9c" stroke="#9c9c9c" stroke-width="0.9"/>
<path d="M188.24 291.31L186.60 290.53" stroke="#d8d8d8" stroke-width="1.1" stroke-linecap="round" fill="none"/>
<path d="M189.92 353.76L188.24 353.05L188.24 291.31L189.92 292.02Z" fill="#9e9e9e" stroke="#9e9e9e" stroke-width="0.9"/>
<path d="M189.92 292.02L188.24 291.31" stroke="#d8d8d8" stroke-width="1.1" stroke-linecap="round" fill="none"/>
<path d="M408.72 349.59L409.59 350.73L409.59 288.99L408.72 287.85Z" fill="#7e7e7e" stroke="#7e7e7e" stroke-width="0.9"/>
<path d="M408.72 287.85L409.59 288.99" stroke="#8c8c8c" stroke-width="0.8" stroke-linecap="round" fill="none"/>
<path d="M191.64 354.41L189.92 353.76L189.92 292.02L191.64 292.67Z" fill="#a0a0a0" stroke="#a0a0a0" stroke-width="0.9"/>
<path d="M191.64 292.67L189.92 292.02" stroke="#d8d8d8" stroke-width="1.1" stroke-linecap="round" fill="none"/>
<path d="M409.59 350.73L410.38 351.90L410.38 290.16L409.59 288.99Z" fill="#7a7a7a" stroke="#7a7a7a" stroke-width="0.9"/>
<path d="M409.59 288.99L410.38 290.16" stroke="#8c8c8c" stroke-width="0.8" stroke-linecap="round" fill="none"/>
<path d="M193.40 354.99L191.64 354.41L191.64 292.67L193.40 293.25Z" fill="#a2a2a2" stroke="#a2a2a2" stroke-width="0.9"/>
<path d="M193.40 293.25L191.64 292.67" stroke="#d8d8d8" stroke-width="1.1" stroke-linecap="round" fill="none"/>
<path d="M195.19 355.50L193.40 354.99L193.40 293.25L195.19 293.76Z" fill="#a4a4a4" stroke="#a4a4a4" stroke-width="0.9"/>
<path d="M195.19 293.76L193.40 293.25" stroke="#d8d8d8" stroke-width="1.1" stroke-linecap="round" fill="none"/>
<path d="M197.01 355.94L195.19 355.50L195.19 293.76L197.01 294.19Z" fill="#a6a6a6" stroke="#a6a6a6" stroke-width="0.9"/>
<path d="M197.01 294.19L195.19 293.76" stroke="#d8d8d8" stroke-width="1.1" stroke-linecap="round" fill="none"/>
<path d="M410.38 351.90L411.09 353.09L411.09 291.35L410.38 290.16Z" fill="#757575" stroke="#757575" stroke-width="0.9"/>
<path d="M410.38 290.16L411.09 291.35" stroke="#8c8c8c" stroke-width="0.8" stroke-linecap="round" fill="none"/>
<path d="M197.73 356.29L197.01 355.94L197.01 294.19L197.73 294.55Z" fill="#cdcdcd" stroke="#cdcdcd" stroke-width="0.9"/>
<path d="M197.73 294.55L197.01 294.19" stroke="#d8d8d8" stroke-width="1.1" stroke-linecap="round" fill="none"/>
<path d="M197.94 356.85L197.73 356.29L197.73 294.55L197.94 295.11Z" fill="#cdcdcd" stroke="#cdcdcd" stroke-width="0.9"/>
<path d="M197.94 295.11L197.73 294.55" stroke="#d8d8d8" stroke-width="1.1" stroke-linecap="round" fill="none"/>
<path d="M411.09 353.09L411.72 354.30L411.72 292.56L411.09 291.35Z" fill="#707070" stroke="#707070" stroke-width="0.9"/>
<path d="M411.09 291.35L411.72 292.56" stroke="#8c8c8c" stroke-width="0.8" stroke-linecap="round" fill="none"/>
<path d="M197.56 357.38L197.94 356.85L197.94 295.11L197.56 295.64Z" fill="#cdcdcd" stroke="#cdcdcd" stroke-width="0.9"/>
<path d="M197.56 295.64L197.94 295.11" stroke="#8c8c8c" stroke-width="0.8" stroke-linecap="round" fill="none"/>
<path d="M196.74 357.67L197.56 357.38L197.56 295.64L196.74 295.92Z" fill="#cdcdcd" stroke="#cdcdcd" stroke-width="0.9"/>
<path d="M196.74 295.92L197.56 295.64" stroke="#8c8c8c" stroke-width="0.8" stroke-linecap="round" fill="none"/>
<path d="M194.81 357.92L196.74 357.67L196.74 295.92L194.81 296.18Z" fill="#b2b2b2" stroke="#b2b2b2" stroke-width="0.9"/>
<path d="M194.81 296.18L196.74 295.92" stroke="#8c8c8c" stroke-width="0.8" stroke-linecap="round" fill="none"/>
<path d="M197.94 356.85L197.94 295.11" stroke="#505050" stroke-width="1.0" fill="none"/>
<path d="M192.89 358.21L194.81 357.92L194.81 296.18L192.89 296.47Z" fill="#b2b2b2" stroke="#b2b2b2" stroke-width="0.9"/>
<path d="M192.89 296.47L194.81 296.18" stroke="#8c8c8c" stroke-width="0.8" stroke-linecap="round" fill="none"/>
<path d="M411.72 354.30L412.25 355.52L412.25 293.78L411.72 292.56Z" fill="#6b6b6b" stroke="#6b6b6b" stroke-width="0.9"/>
<path d="M411.72 292.56L412.25 293.78" stroke="#8c8c8c" stroke-width="0.8" stroke-linecap="round" fill="none"/>
<path d="M190.99 358.54L192.89 358.21L192.89 296.47L190.99 296.79Z" fill="#b2b2b2" stroke="#b2b2b2" stroke-width="0.9"/>
<path d="M190.99 296.79L192.89 296.47" stroke="#8c8c8c" stroke-width="0.8" stroke-linecap="round" fill="none"/>
<path d="M189.10 358.90L190.99 358.54L190.99 296.79L189.10 297.16Z" fill="#b2b2b2" stroke="#b2b2b2" stroke-width="0.9"/>
<path d="M189.10 297.16L190.99 296.79" stroke="#8c8c8c" stroke-width="0.8" stroke-linecap="round" fill="none"/>
<path d="M187.25 359.31L189.10 358.90L189.10 297.16L187.25 297.57Z" fill="#b2b2b2" stroke="#b2b2b2" stroke-width="0.9"/>
<path d="M187.25 297.57L189.10 297.16" stroke="#8c8c8c" stroke-width="0.8" stroke-linecap="round" fill="none"/>
<path d="M412.25 355.52L412.70 356.77L412.70 295.02L412.25 293.78Z" fill="#656565" stroke="#656565" stroke-width="0.9"/>
<path d="M412.25 293.78L412.70 295.02" stroke="#8c8c8c" stroke-width="0.8" stroke-linecap="round" fill="none"/>
<path d="M185.42 359.76L187.25 359.31L187.25 297.57L185.42 298.02Z" fill="#b2b2b2" stroke="#b2b2b2" stroke-width="0.9"/>
<path d="M185.42 298.02L187.25 297.57" stroke="#8c8c8c" stroke-width="0.8" stroke-linecap="round" fill="none"/>
<path d="M183.63 360.25L185.42 359.76L185.42 298.02L183.63 298.50Z" fill="#b1b1b1" stroke="#b1b1b1" stroke-width="0.9"/>
<path d="M183.63 298.50L185.42 298.02" stroke="#8c8c8c" stroke-width="0.8" stroke-linecap="round" fill="none"/>
<path d="M412.70 356.77L413.07 358.02L413.07 296.28L412.70 295.02Z" fill="#5e5e5e" stroke="#5e5e5e" stroke-width="0.9"/>
<path d="M412.70 295.02L413.07 296.28" stroke="#8c8c8c" stroke-width="0.8" stroke-linecap="round" fill="none"/>
<path d="M181.88 360.78L183.63 360.25L183.63 298.50L181.88 299.03Z" fill="#b1b1b1" stroke="#b1b1b1" stroke-width="0.9"/>
<path d="M181.88 299.03L183.63 298.50" stroke="#8c8c8c" stroke-width="0.8" stroke-linecap="round" fill="none"/>
<path d="M180.19 361.35L181.88 360.78L181.88 299.03L180.19 299.61Z" fill="#b0b0b0" stroke="#b0b0b0" stroke-width="0.9"/>
<path d="M180.19 299.61L181.88 299.03" stroke="#8c8c8c" stroke-width="0.8" stroke-linecap="round" fill="none"/>
<path d="M413.07 358.02L413.34 359.28L413.34 297.54L413.07 296.28Z" fill="#565656" stroke="#565656" stroke-width="0.9"/>
<path d="M413.07 296.28L413.34 297.54" stroke="#8c8c8c" stroke-width="0.8" stroke-linecap="round" fill="none"/>
<path d="M178.54 361.96L180.19 361.35L180.19 299.61L178.54 300.22Z" fill="#afafaf" stroke="#afafaf" stroke-width="0.9"/>
<path d="M178.54 300.22L180.19 299.61" stroke="#8c8c8c" stroke-width="0.8" stroke-linecap="round" fill="none"/>
<path d="M413.34 359.28L413.52 360.55L413.52 298.81L413.34 297.54Z" fill="#4d4d4d" stroke="#4d4d4d" stroke-width="0.9"/>
<path d="M413.34 297.54L413.52 298.81" stroke="#8c8c8c" stroke-width="0.8" stroke-linecap="round" fill="none"/>
<path d="M176.95 362.62L178.54 361.96L178.54 300.22L176.95 300.88Z" fill="#aeaeae" stroke="#aeaeae" stroke-width="0.9"/>
<path d="M176.95 300.88L178.54 300.22" stroke="#8c8c8c" stroke-width="0.8" stroke-linecap="round" fill="none"/>
<path d="M175.43 363.32L176.95 362.62L176.95 300.88L175.43 301.58Z" fill="#acacac" stroke="#acacac" stroke-width="0.9"/>
<path d="M175.43 301.58L176.95 300.88" stroke="#8c8c8c" stroke-width="0.8" stroke-linecap="round" fill="none"/>
<path d="M413.52 360.55L413.61 361.82L413.61 300.08L413.52 298.81Z" fill="#3f3f3f" stroke="#3f3f3f" stroke-width="0.9"/>
<path d="M413.52 298.81L413.61 300.08" stroke="#8c8c8c" stroke-width="0.8" stroke-linecap="round" fill="none"/>
<path d="M173.97 364.06L175.43 363.32L175.43 301.58L173.97 302.32Z" fill="#ababab" stroke="#ababab" stroke-width="0.9"/>
<path d="M173.97 302.32L175.43 301.58" stroke="#8c8c8c" stroke-width="0.8" stroke-linecap="round" fill="none"/>
<path d="M413.61 361.82L413.61 363.09L413.61 301.35L413.61 300.08Z" fill="#393939" stroke="#393939" stroke-width="0.9"/>
<path d="M413.61 300.08L413.61 301.35" stroke="#d8d8d8" stroke-width="1.1" stroke-linecap="round" fill="none"/>
<path d="M172.59 364.84L173.97 364.06L173.97 302.32L172.59 303.10Z" fill="#a9a9a9" stroke="#a9a9a9" stroke-width="0.9"/>
<path d="M172.59 303.10L173.97 302.32" stroke="#8c8c8c" stroke-width="0.8" stroke-linecap="round" fill="none"/>
<path d="M413.61 361.82L413.61 300.08" stroke="#505050" stroke-width="1.0" fill="none"/>
<path d="M413.61 363.09L413.52 364.35L413.52 302.61L413.61 301.35Z" fill="#626262" stroke="#626262" stroke-width="0.9"/>
<path d="M413.61 301.35L413.52 302.61" stroke="#d8d8d8" stroke-width="1.1" stroke-linecap="round" fill="none"/>
<path d="M171.28 365.66L172.59 364.84L172.59 303.10L171.28 303.92Z" fill="#a7a7a7" stroke="#a7a7a7" stroke-width="0.9"/>
<path d="M171.28 303.92L172.59 303.10" stroke="#8c8c8c" stroke-width="0.8" stroke-linecap="round" fill="none"/>
<path d="M170.05 366.53L171.28 365.66L171.28 303.92L170.05 304.78Z" fill="#a5a5a5" stroke="#a5a5a5" stroke-width="0.9"/>
<path d="M170.05 304.78L171.28 303.92" stroke="#8c8c8c" stroke-width="0.8" stroke-linecap="round" fill="none"/>
<path d="M413.52 364.35L413.35 365.61L413.35 303.87L413.52 302.61Z" fill="#707070" stroke="#707070" stroke-width="0.9"/>
<path d="M413.52 302.61L413.35 303.87" stroke="#d8d8d8" stroke-width="1.1" stroke-linecap="round" fill="none"/>
<path d="M168.90 367.43L170.05 366.53L170.05 304.78L168.90 305.68Z" fill="#a2a2a2" stroke="#a2a2a2" stroke-width="0.9"/>
<path d="M168.90 305.68L170.05 304.78" stroke="#8c8c8c" stroke-width="0.8" stroke-linecap="round" fill="none"/>
<path d="M413.35 365.61L413.08 366.86L413.08 305.12L413.35 303.87Z" fill="#797979" stroke="#797979" stroke-width="0.9"/>
<path d="M413.35 303.87L413.08 305.12" stroke="#d8d8d8" stroke-width="1.1" stroke-linecap="round" fill="none"/>
<path d="M167.84 368.36L168.90 367.43L168.90 305.68L167.84 306.62Z" fill="#9f9f9f" stroke="#9f9f9f" stroke-width="0.9"/>
<path d="M167.84 306.62L168.90 305.68" stroke="#8c8c8c" stroke-width="0.8" stroke-linecap="round" fill="none"/>
<path d="M413.08 366.86L412.72 368.10L412.72 306.36L413.08 305.12Z" fill="#818181" stroke="#818181" stroke-width="0.9"/>
<path d="M413.08 305.12L412.72 306.36" stroke="#d8d8d8" stroke-width="1.1" stroke-linecap="round" fill="none"/>
<path d="M166.87 369.33L167.84 368.36L167.84 306.62L166.87 307.59Z" fill="#9c9c9c" stroke="#9c9c9c" stroke-width="0.9"/>
<path d="M166.87 307.59L167.84 306.62" stroke="#8c8c8c" stroke-width="0.8" stroke-linecap="round" fill="none"/>
<path d="M412.72 368.10L412.27 369.32L412.27 307.58L412.72 306.36Z" fill="#878787" stroke="#878787" stroke-width="0.9"/>
<path d="M412.72 306.36L412.27 307.58" stroke="#d8d8d8" stroke-width="1.1" stroke-linecap="round" fill="none"/>
<path d="M165.98 370.33L166.87 369.33L166.87 307.59L165.98 308.59Z" fill="#999999" stroke="#999999" stroke-width="0.9"/>
<path d="M165.98 308.59L166.87 307.59" stroke="#8c8c8c" stroke-width="0.8" stroke-linecap="round" fill="none"/>
<path d="M412.27 369.32L411.74 370.52L411.74 308.78L412.27 307.58Z" fill="#8d8d8d" stroke="#8d8d8d" stroke-width="0.9"/>
<path d="M412.27 307.58L411.74 308.78" stroke="#d8d8d8" stroke-width="1.1" stroke-linecap="round" fill="none"/>
<path d="M165.19 371.36L165.98 370.33L165.98 308.59L165.19 309.62Z" fill="#959595" stroke="#959595" stroke-width="0.9"/>
<path d="M165.19 309.62L165.98 308.59" stroke="#8c8c8c" stroke-width="0.8" stroke-linecap="round" fill="none"/>
<path d="M411.74 370.52L411.12 371.70L411.12 309.96L411.74 308.78Z" fill="#929292" stroke="#929292" stroke-width="0.9"/>
<path d="M411.74 308.78L411.12 309.96" stroke="#d8d8d8" stroke-width="1.1" stroke-linecap="round" fill="none"/>
<path d="M164.49 372.41L165.19 371.36L165.19 309.62L164.49 310.67Z" fill="#919191" stroke="#919191" stroke-width="0.9"/>
<path d="M164.49 310.67L165.19 309.62" stroke="#8c8c8c" stroke-width="0.8" stroke-linecap="round" fill="none"/>
<path d="M411.12 371.70L410.41 372.86L410.41 311.11L411.12 309.96Z" fill="#969696" stroke="#969696" stroke-width="0.9"/>
<path d="M411.12 309.96L410.41 311.11" stroke="#d8d8d8" stroke-width="1.1" stroke-linecap="round" fill="none"/>
<path d="M163.89 373.49L164.49 372.41L164.49 310.67L163.89 311.75Z" fill="#8c8c8c" stroke="#8c8c8c" stroke-width="0.9"/>
<path d="M163.89 311.75L164.49 310.67" stroke="#8c8c8c" stroke-width="0.8" stroke-linecap="round" fill="none"/>
<path d="M410.41 372.86L409.63 373.98L409.63 312.24L410.41 311.11Z" fill="#9a9a9a" stroke="#9a9a9a" stroke-width="0.9"/>
<path d="M410.41 311.11L409.63 312.24" stroke="#d8d8d8" stroke-width="1.1" stroke-linecap="round" fill="none"/>
<path d="M163.38 374.59L163.89 373.49L163.89 311.75L163.38 312.85Z" fill="#868686" stroke="#868686" stroke-width="0.9"/>
<path d="M163.38 312.85L163.89 311.75" stroke="#8c8c8c" stroke-width="0.8" stroke-linecap="round" fill="none"/>
<path d="M409.63 373.98L408.76 375.07L408.76 313.33L409.63 312.24Z" fill="#9d9d9d" stroke="#9d9d9d" stroke-width="0.9"/>
<path d="M409.63 312.24L408.76 313.33" stroke="#d8d8d8" stroke-width="1.1" stroke-linecap="round" fill="none"/>
<path d="M162.97 375.70L163.38 374.59L163.38 312.85L162.97 313.96Z" fill="#7f7f7f" stroke="#7f7f7f" stroke-width="0.9"/>
<path d="M162.97 313.96L163.38 312.85" stroke="#8c8c8c" stroke-width="0.8" stroke-linecap="round" fill="none"/>
<path d="M408.76 375.07L407.82 376.13L407.82 314.39L408.76 313.33Z" fill="#a0a0a0" stroke="#a0a0a0" stroke-width="0.9"/>
<path d="M408.76 313.33L407.82 314.39" stroke="#d8d8d8" stroke-width="1.1" stroke-linecap="round" fill="none"/>
<path d="M162.66 376.83L162.97 375.70L162.97 313.96L162.66 315.09Z" fill="#777777" stroke="#777777" stroke-width="0.9"/>
<path d="M162.66 315.09L162.97 313.96" stroke="#8c8c8c" stroke-width="0.8" stroke-linecap="round" fill="none"/>
<path d="M407.82 376.13L406.80 377.15L406.80 315.41L407.82 314.39Z" fill="#a3a3a3" stroke="#a3a3a3" stroke-width="0.9"/>
<path d="M407.82 314.39L406.80 315.41" stroke="#d8d8d8" stroke-width="1.1" stroke-linecap="round" fill="none"/>
<path d="M162.44 377.97L162.66 376.83L162.66 315.09L162.44 316.23Z" fill="#6d6d6d" stroke="#6d6d6d" stroke-width="0.9"/>
<path d="M162.44 316.23L162.66 315.09" stroke="#8c8c8c" stroke-width="0.8" stroke-linecap="round" fill="none"/>
<path d="M406.80 377.15L405.70 378.12L405.70 316.38L406.80 315.41Z" fill="#a5a5a5" stroke="#a5a5a5" stroke-width="0.9"/>
<path d="M406.80 315.41L405.70 316.38" stroke="#d8d8d8" stroke-width="1.1" stroke-linecap="round" fill="none"/>
<path d="M405.70 378.12L404.54 379.06L404.54 317.31L405.70 316.38Z" fill="#a7a7a7" stroke="#a7a7a7" stroke-width="0.9"/>
<path d="M405.70 316.38L404.54 317.31" stroke="#d8d8d8" stroke-width="1.1" stroke-linecap="round" fill="none"/>
<path d="M162.33 379.12L162.44 377.97L162.44 316.23L162.33 317.38Z" fill="#5e5e5e" stroke="#5e5e5e" stroke-width="0.9"/>
<path d="M162.33 317.38L162.44 316.23" stroke="#8c8c8c" stroke-width="0.8" stroke-linecap="round" fill="none"/>
<path d="M404.54 379.06L403.30 379.94L403.30 318.20L404.54 317.31Z" fill="#a9a9a9" stroke="#a9a9a9" stroke-width="0.9"/>
<path d="M404.54 317.31L403.30 318.20" stroke="#d8d8d8" stroke-width="1.1" stroke-linecap="round" fill="none"/>
<path d="M162.31 380.27L162.33 379.12L162.33 317.38L162.31 318.53Z" fill="#292929" stroke="#292929" stroke-width="0.9"/>
<path d="M162.31 318.53L162.33 317.38" stroke="#d8d8d8" stroke-width="1.1" stroke-linecap="round" fill="none"/>
<path d="M403.30 379.94L402.00 380.78L402.00 319.04L403.30 318.20Z" fill="#ababab" stroke="#ababab" stroke-width="0.9"/>
<path d="M403.30 318.20L402.00 319.04" stroke="#d8d8d8" stroke-width="1.1" stroke-linecap="round" fill="none"/>
<path d="M162.33 379.12L162.33 317.38" stroke="#505050" stroke-width="1.0" fill="none"/>
<path d="M162.39 381.42L162.31 380.27L162.31 318.53L162.39 319.68Z" fill="#424242" stroke="#424242" stroke-width="0.9"/>
<path d="M162.39 319.68L162.31 318.53" stroke="#d8d8d8" stroke-width="1.1" stroke-linecap="round" fill="none"/>
<path d="M402.00 380.78L400.64 381.56L400.64 319.82L402.00 319.04Z" fill="#adadad" stroke="#adadad" stroke-width="0.9"/>
<path d="M402.00 319.04L400.64 319.82" stroke="#d8d8d8" stroke-width="1.1" stroke-linecap="round" fill="none"/>
<path d="M400.64 381.56L399.22 382.29L399.22 320.55L400.64 319.82Z" fill="#aeaeae" stroke="#aeaeae" stroke-width="0.9"/>
<path d="M400.64 319.82L399.22 320.55" stroke="#d8d8d8" stroke-width="1.1" stroke-linecap="round" fill="none"/>
<path d="M162.57 382.56L162.39 381.42L162.39 319.68L162.57 320.82Z" fill="#4f4f4f" stroke="#4f4f4f" stroke-width="0.9"/>
<path d="M162.57 320.82L162.39 319.68" stroke="#d8d8d8" stroke-width="1.1" stroke-linecap="round" fill="none"/>
<path d="M399.22 382.29L397.74 382.97L397.74 321.23L399.22 320.55Z" fill="#afafaf" stroke="#afafaf" stroke-width="0.9"/>
<path d="M399.22 320.55L397.74 321.23" stroke="#d8d8d8" stroke-width="1.1" stroke-linecap="round" fill="none"/>
<path d="M397.74 382.97L396.21 383.59L396.21 321.84L397.74 321.23Z" fill="#b0b0b0" stroke="#b0b0b0" stroke-width="0.9"/>
<path d="M397.74 321.23L396.21 321.84" stroke="#d8d8d8" stroke-width="1.1" stroke-linecap="round" fill="none"/>
<path d="M162.84 383.70L162.57 382.56L162.57 320.82L162.84 321.96Z" fill="#585858" stroke="#585858" stroke-width="0.9"/>
<path d="M162.84 321.96L162.57 320.82" stroke="#d8d8d8" stroke-width="1.1" stroke-linecap="round" fill="none"/>
<path d="M396.21 383.59L394.62 384.15L394.62 322.40L396.21 321.84Z" fill="#b1b1b1" stroke="#b1b1b1" stroke-width="0.9"/>
<path d="M396.21 321.84L394.62 322.40" stroke="#d8d8d8" stroke-width="1.1" stroke-linecap="round" fill="none"/>
<path d="M394.62 384.15L393.00 384.65L393.00 322.90L394.62 322.40Z" fill="#b1b1b1" stroke="#b1b1b1" stroke-width="0.9"/>
<path d="M394.62 322.40L393.00 322.90" stroke="#d8d8d8" stroke-width="1.1" stroke-linecap="round" fill="none"/>
<path d="M163.22 384.83L162.84 383.70L162.84 321.96L163.22 323.09Z" fill="#606060" stroke="#606060" stroke-width="0.9"/>
<path d="M163.22 323.09L162.84 321.96" stroke="#d8d8d8" stroke-width="1.1" stroke-linecap="round" fill="none"/>
<path d="M393.00 384.65L391.32 385.09L391.32 323.34L393.00 322.90Z" fill="#b2b2b2" stroke="#b2b2b2" stroke-width="0.9"/>
<path d="M393.00 322.90L391.32 323.34" stroke="#d8d8d8" stroke-width="1.1" stroke-linecap="round" fill="none"/>
<path d="M391.32 385.09L389.61 385.47L389.61 323.72L391.32 323.34Z" fill="#b2b2b2" stroke="#b2b2b2" stroke-width="0.9"/>
<path d="M391.32 323.34L389.61 323.72" stroke="#d8d8d8" stroke-width="1.1" stroke-linecap="round" fill="none"/>
<path d="M163.68 385.95L163.22 384.83L163.22 323.09L163.68 324.21Z" fill="#676767" stroke="#676767" stroke-width="0.9"/>
<path d="M163.68 324.21L163.22 323.09" stroke="#d8d8d8" stroke-width="1.1" stroke-linecap="round" fill="none"/>
<path d="M389.61 385.47L387.87 385.78L387.87 324.04L389.61 323.72Z" fill="#b2b2b2" stroke="#b2b2b2" stroke-width="0.9"/>
<path d="M389.61 323.72L387.87 324.04" stroke="#d8d8d8" stroke-width="1.1" stroke-linecap="round" fill="none"/>
<path d="M387.87 385.78L386.09 386.04L386.09 324.30L387.87 324.04Z" fill="#b2b2b2" stroke="#b2b2b2" stroke-width="0.9"/>
<path d="M387.87 324.04L386.09 324.30" stroke="#d8d8d8" stroke-width="1.1" stroke-linecap="round" fill="none"/>
<path d="M386.09 386.04L384.28 386.24L384.28 324.50L386.09 324.30Z" fill="#b2b2b2" stroke="#b2b2b2" stroke-width="0.9"/>
<path d="M386.09 324.30L384.28 324.50" stroke="#d8d8d8" stroke-width="1.1" stroke-linecap="round" fill="none"/>
<path d="M365.58 385.14L364.68 385.15L364.68 323.41L365.58 323.40Z" fill="#cdcdcd" stroke="#cdcdcd" stroke-width="0.9"/>
<path d="M365.58 323.40L364.68 323.41" stroke="#d8d8d8" stroke-width="1.1" stroke-linecap="round" fill="none"/>
<path d="M164.24 387.05L163.68 385.95L163.68 324.21L164.24 325.31Z" fill="#6c6c6c" stroke="#6c6c6c" stroke-width="0.9"/>
<path d="M164.24 325.31L163.68 324.21" stroke="#d8d8d8" stroke-width="1.1" stroke-linecap="round" fill="none"/>
<path d="M367.44 385.49L365.58 385.14L365.58 323.40L367.44 323.75Z" fill="#aaaaaa" stroke="#aaaaaa" stroke-width="0.9"/>
<path d="M367.44 323.75L365.58 323.40" stroke="#d8d8d8" stroke-width="1.1" stroke-linecap="round" fill="none"/>
<path d="M364.68 385.15L364.01 385.53L364.01 323.79L364.68 323.41Z" fill="#cdcdcd" stroke="#cdcdcd" stroke-width="0.9"/>
<path d="M364.68 323.41L364.01 323.79" stroke="#d8d8d8" stroke-width="1.1" stroke-linecap="round" fill="none"/>
<path d="M384.28 386.24L382.45 386.38L382.45 324.64L384.28 324.50Z" fill="#b2b2b2" stroke="#b2b2b2" stroke-width="0.9"/>
<path d="M384.28 324.50L382.45 324.64" stroke="#d8d8d8" stroke-width="1.1" stroke-linecap="round" fill="none"/>
<path d="M369.31 385.79L367.44 385.49L367.44 323.75L369.31 324.04Z" fill="#ababab" stroke="#ababab" stroke-width="0.9"/>
<path d="M369.31 324.04L367.44 323.75" stroke="#d8d8d8" stroke-width="1.1" stroke-linecap="round" fill="none"/>
<path d="M382.45 386.38L380.60 386.47L380.60 324.72L382.45 324.64Z" fill="#b2b2b2" stroke="#b2b2b2" stroke-width="0.9"/>
<path d="M382.45 324.64L380.60 324.72" stroke="#d8d8d8" stroke-width="1.1" stroke-linecap="round" fill="none"/>
<path d="M371.19 386.03L369.31 385.79L369.31 324.04L371.19 324.29Z" fill="#adadad" stroke="#adadad" stroke-width="0.9"/>
<path d="M371.19 324.29L369.31 324.04" stroke="#d8d8d8" stroke-width="1.1" stroke-linecap="round" fill="none"/>
<path d="M380.60 386.47L378.73 386.49L378.73 324.75L380.60 324.72Z" fill="#b1b1b1" stroke="#b1b1b1" stroke-width="0.9"/>
<path d="M380.60 324.72L378.73 324.75" stroke="#d8d8d8" stroke-width="1.1" stroke-linecap="round" fill="none"/>
<path d="M364.01 385.53L363.84 386.11L363.84 324.36L364.01 323.79Z" fill="#cdcdcd" stroke="#cdcdcd" stroke-width="0.9"/>
<path d="M364.01 323.79L363.84 324.36" stroke="#d8d8d8" stroke-width="1.1" stroke-linecap="round" fill="none"/>
<path d="M373.08 386.23L371.19 386.03L371.19 324.29L373.08 324.49Z" fill="#aeaeae" stroke="#aeaeae" stroke-width="0.9"/>
<path d="M373.08 324.49L371.19 324.29" stroke="#d8d8d8" stroke-width="1.1" stroke-linecap="round" fill="none"/>
<path d="M378.73 386.49L376.85 386.46L376.85 324.72L378.73 324.75Z" fill="#b0b0b0" stroke="#b0b0b0" stroke-width="0.9"/>
<path d="M378.73 324.75L376.85 324.72" stroke="#d8d8d8" stroke-width="1.1" stroke-linecap="round" fill="none"/>
<path d="M374.97 386.37L373.08 386.23L373.08 324.49L374.97 324.63Z" fill="#afafaf" stroke="#afafaf" stroke-width="0.9"/>
<path d="M374.97 324.63L373.08 324.49" stroke="#d8d8d8" stroke-width="1.1" stroke-linecap="round" fill="none"/>
<path d="M376.85 386.46L374.97 386.37L374.97 324.63L376.85 324.72Z" fill="#b0b0b0" stroke="#b0b0b0" stroke-width="0.9"/>
<path d="M376.85 324.72L374.97 324.63" stroke="#d8d8d8" stroke-width="1.1" stroke-linecap="round" fill="none"/>
<path d="M363.84 386.11L364.25 386.65L364.25 324.91L363.84 324.36Z" fill="#cdcdcd" stroke="#cdcdcd" stroke-width="0.9"/>
<path d="M363.84 324.36L364.25 324.91" stroke="#8c8c8c" stroke-width="0.8" stroke-linecap="round" fill="none"/>
<path d="M164.90 388.13L164.24 387.05L164.24 325.31L164.90 326.39Z" fill="#727272" stroke="#727272" stroke-width="0.9"/>
<path d="M164.90 326.39L164.24 325.31" stroke="#d8d8d8" stroke-width="1.1" stroke-linecap="round" fill="none"/>
<path d="M364.25 386.65L365.58 387.60L365.58 325.85L364.25 324.91Z" fill="#919191" stroke="#919191" stroke-width="0.9"/>
<path d="M364.25 324.91L365.58 325.85" stroke="#8c8c8c" stroke-width="0.8" stroke-linecap="round" fill="none"/>
<path d="M363.84 386.11L363.84 324.36" stroke="#505050" stroke-width="1.0" fill="none"/>
<path d="M165.64 389.19L164.90 388.13L164.90 326.39L165.64 327.44Z" fill="#767676" stroke="#767676" stroke-width="0.9"/>
<path d="M165.64 327.44L164.90 326.39" stroke="#d8d8d8" stroke-width="1.1" stroke-linecap="round" fill="none"/>
<path d="M365.58 387.60L366.84 388.58L366.84 326.84L365.58 325.85Z" fill="#8e8e8e" stroke="#8e8e8e" stroke-width="0.9"/>
<path d="M365.58 325.85L366.84 326.84" stroke="#8c8c8c" stroke-width="0.8" stroke-linecap="round" fill="none"/>
<path d="M166.47 390.22L165.64 389.19L165.64 327.44L166.47 328.47Z" fill="#7b7b7b" stroke="#7b7b7b" stroke-width="0.9"/>
<path d="M166.47 328.47L165.64 327.44" stroke="#d8d8d8" stroke-width="1.1" stroke-linecap="round" fill="none"/>
<path d="M366.84 388.58L368.02 389.61L368.02 327.87L366.84 326.84Z" fill="#8b8b8b" stroke="#8b8b8b" stroke-width="0.9"/>
<path d="M366.84 326.84L368.02 327.87" stroke="#8c8c8c" stroke-width="0.8" stroke-linecap="round" fill="none"/>
<path d="M167.39 391.22L166.47 390.22L166.47 328.47L167.39 329.48Z" fill="#7f7f7f" stroke="#7f7f7f" stroke-width="0.9"/>
<path d="M167.39 329.48L166.47 328.47" stroke="#d8d8d8" stroke-width="1.1" stroke-linecap="round" fill="none"/>
<path d="M368.02 389.61L369.14 390.67L369.14 328.93L368.02 327.87Z" fill="#878787" stroke="#878787" stroke-width="0.9"/>
<path d="M368.02 327.87L369.14 328.93" stroke="#8c8c8c" stroke-width="0.8" stroke-linecap="round" fill="none"/>
<path d="M168.39 392.19L167.39 391.22L167.39 329.48L168.39 330.45Z" fill="#838383" stroke="#838383" stroke-width="0.9"/>
<path d="M168.39 330.45L167.39 329.48" stroke="#d8d8d8" stroke-width="1.1" stroke-linecap="round" fill="none"/>
<path d="M369.14 390.67L370.17 391.77L370.17 330.02L369.14 328.93Z" fill="#848484" stroke="#848484" stroke-width="0.9"/>
<path d="M369.14 328.93L370.17 330.02" stroke="#8c8c8c" stroke-width="0.8" stroke-linecap="round" fill="none"/>
<path d="M169.47 393.12L168.39 392.19L168.39 330.45L169.47 331.38Z" fill="#868686" stroke="#868686" stroke-width="0.9"/>
<path d="M169.47 331.38L168.39 330.45" stroke="#d8d8d8" stroke-width="1.1" stroke-linecap="round" fill="none"/>
<path d="M370.17 391.77L371.12 392.89L371.12 331.15L370.17 330.02Z" fill="#808080" stroke="#808080" stroke-width="0.9"/>
<path d="M370.17 330.02L371.12 331.15" stroke="#8c8c8c" stroke-width="0.8" stroke-linecap="round" fill="none"/>
<path d="M170.63 394.02L169.47 393.12L169.47 331.38L170.63 332.28Z" fill="#8a8a8a" stroke="#8a8a8a" stroke-width="0.9"/>
<path d="M170.63 332.28L169.47 331.38" stroke="#d8d8d8" stroke-width="1.1" stroke-linecap="round" fill="none"/>
<path d="M371.12 392.89L372.00 394.04L372.00 332.30L371.12 331.15Z" fill="#7c7c7c" stroke="#7c7c7c" stroke-width="0.9"/>
<path d="M371.12 331.15L372.00 332.30" stroke="#8c8c8c" stroke-width="0.8" stroke-linecap="round" fill="none"/>
<path d="M171.86 394.89L170.63 394.02L170.63 332.28L171.86 333.14Z" fill="#8d8d8d" stroke="#8d8d8d" stroke-width="0.9"/>
<path d="M171.86 333.14L170.63 332.28" stroke="#d8d8d8" stroke-width="1.1" stroke-linecap="round" fill="none"/>
<path d="M372.00 394.04L372.78 395.21L372.78 333.47L372.00 332.30Z" fill="#787878" stroke="#787878" stroke-width="0.9"/>
<path d="M372.00 332.30L372.78 333.47" stroke="#8c8c8c" stroke-width="0.8" stroke-linecap="round" fill="none"/>
<path d="M173.17 395.71L171.86 394.89L171.86 333.14L173.17 333.96Z" fill="#909090" stroke="#909090" stroke-width="0.9"/>
<path d="M173.17 333.96L171.86 333.14" stroke="#d8d8d8" stroke-width="1.1" stroke-linecap="round" fill="none"/>
<path d="M372.78 395.21L373.49 396.41L373.49 334.66L372.78 333.47Z" fill="#737373" stroke="#737373" stroke-width="0.9"/>
<path d="M372.78 333.47L373.49 334.66" stroke="#8c8c8c" stroke-width="0.8" stroke-linecap="round" fill="none"/>
<path d="M174.55 396.48L173.17 395.71L173.17 333.96L174.55 334.74Z" fill="#939393" stroke="#939393" stroke-width="0.9"/>
<path d="M174.55 334.74L173.17 333.96" stroke="#d8d8d8" stroke-width="1.1" stroke-linecap="round" fill="none"/>
<path d="M175.98 397.22L174.55 396.48L174.55 334.74L175.98 335.48Z" fill="#959595" stroke="#959595" stroke-width="0.9"/>
<path d="M175.98 335.48L174.55 334.74" stroke="#d8d8d8" stroke-width="1.1" stroke-linecap="round" fill="none"/>
<path d="M373.49 396.41L374.10 397.62L374.10 335.87L373.49 334.66Z" fill="#6e6e6e" stroke="#6e6e6e" stroke-width="0.9"/>
<path d="M373.49 334.66L374.10 335.87" stroke="#8c8c8c" stroke-width="0.8" stroke-linecap="round" fill="none"/>
<path d="M177.48 397.91L175.98 397.22L175.98 335.48L177.48 336.17Z" fill="#989898" stroke="#989898" stroke-width="0.9"/>
<path d="M177.48 336.17L175.98 335.48" stroke="#d8d8d8" stroke-width="1.1" stroke-linecap="round" fill="none"/>
<path d="M374.10 397.62L374.62 398.84L374.62 337.10L374.10 335.87Z" fill="#696969" stroke="#696969" stroke-width="0.9"/>
<path d="M374.10 335.87L374.62 337.10" stroke="#8c8c8c" stroke-width="0.8" stroke-linecap="round" fill="none"/>
<path d="M179.04 398.55L177.48 397.91L177.48 336.17L179.04 336.81Z" fill="#9a9a9a" stroke="#9a9a9a" stroke-width="0.9"/>
<path d="M179.04 336.81L177.48 336.17" stroke="#d8d8d8" stroke-width="1.1" stroke-linecap="round" fill="none"/>
<path d="M180.65 399.15L179.04 398.55L179.04 336.81L180.65 337.40Z" fill="#9d9d9d" stroke="#9d9d9d" stroke-width="0.9"/>
<path d="M180.65 337.40L179.04 336.81" stroke="#d8d8d8" stroke-width="1.1" stroke-linecap="round" fill="none"/>
<path d="M374.62 398.84L375.06 400.07L375.06 338.33L374.62 337.10Z" fill="#626262" stroke="#626262" stroke-width="0.9"/>
<path d="M374.62 337.10L375.06 338.33" stroke="#8c8c8c" stroke-width="0.8" stroke-linecap="round" fill="none"/>
<path d="M222.87 399.57L222.00 399.66L222.00 337.92L222.87 337.82Z" fill="#cdcdcd" stroke="#cdcdcd" stroke-width="0.9"/>
<path d="M222.87 337.82L222.00 337.92" stroke="#d8d8d8" stroke-width="1.1" stroke-linecap="round" fill="none"/>
<path d="M223.69 399.83L222.87 399.57L222.87 337.82L223.69 338.09Z" fill="#cdcdcd" stroke="#cdcdcd" stroke-width="0.9"/>
<path d="M223.69 338.09L222.87 337.82" stroke="#d8d8d8" stroke-width="1.1" stroke-linecap="round" fill="none"/>
<path d="M182.31 399.70L180.65 399.15L180.65 337.40L182.31 337.95Z" fill="#9f9f9f" stroke="#9f9f9f" stroke-width="0.9"/>
<path d="M182.31 337.95L180.65 337.40" stroke="#d8d8d8" stroke-width="1.1" stroke-linecap="round" fill="none"/>
<path d="M222.00 399.66L220.38 400.19L220.38 338.45L222.00 337.92Z" fill="#b1b1b1" stroke="#b1b1b1" stroke-width="0.9"/>
<path d="M222.00 337.92L220.38 338.45" stroke="#d8d8d8" stroke-width="1.1" stroke-linecap="round" fill="none"/>
<path d="M224.11 400.35L223.69 399.83L223.69 338.09L224.11 338.60Z" fill="#cdcdcd" stroke="#cdcdcd" stroke-width="0.9"/>
<path d="M224.11 338.60L223.69 338.09" stroke="#d8d8d8" stroke-width="1.1" stroke-linecap="round" fill="none"/>
<path d="M184.01 400.20L182.31 399.70L182.31 337.95L184.01 338.46Z" fill="#a1a1a1" stroke="#a1a1a1" stroke-width="0.9"/>
<path d="M184.01 338.46L182.31 337.95" stroke="#d8d8d8" stroke-width="1.1" stroke-linecap="round" fill="none"/>
<path d="M223.97 400.90L224.11 400.35L224.11 338.60L223.97 339.16Z" fill="#cdcdcd" stroke="#cdcdcd" stroke-width="0.9"/>
<path d="M223.97 339.16L224.11 338.60" stroke="#8c8c8c" stroke-width="0.8" stroke-linecap="round" fill="none"/>
<path d="M220.38 400.19L218.72 400.66L218.72 338.92L220.38 338.45Z" fill="#b2b2b2" stroke="#b2b2b2" stroke-width="0.9"/>
<path d="M220.38 338.45L218.72 338.92" stroke="#d8d8d8" stroke-width="1.1" stroke-linecap="round" fill="none"/>
<path d="M375.06 400.07L375.40 401.32L375.40 339.58L375.06 338.33Z" fill="#5b5b5b" stroke="#5b5b5b" stroke-width="0.9"/>
<path d="M375.06 338.33L375.40 339.58" stroke="#8c8c8c" stroke-width="0.8" stroke-linecap="round" fill="none"/>
<path d="M185.75 400.65L184.01 400.20L184.01 338.46L185.75 338.91Z" fill="#a3a3a3" stroke="#a3a3a3" stroke-width="0.9"/>
<path d="M185.75 338.91L184.01 338.46" stroke="#d8d8d8" stroke-width="1.1" stroke-linecap="round" fill="none"/>
<path d="M218.72 400.66L217.02 401.09L217.02 339.35L218.72 338.92Z" fill="#b2b2b2" stroke="#b2b2b2" stroke-width="0.9"/>
<path d="M218.72 338.92L217.02 339.35" stroke="#d8d8d8" stroke-width="1.1" stroke-linecap="round" fill="none"/>
<path d="M224.11 400.35L224.11 338.60" stroke="#505050" stroke-width="1.0" fill="none"/>
<path d="M223.14 401.93L223.97 400.90L223.97 339.16L223.14 340.19Z" fill="#9b9b9b" stroke="#9b9b9b" stroke-width="0.9"/>
<path d="M223.14 340.19L223.97 339.16" stroke="#8c8c8c" stroke-width="0.8" stroke-linecap="round" fill="none"/>
<path d="M187.52 401.06L185.75 400.65L185.75 338.91L187.52 339.32Z" fill="#a5a5a5" stroke="#a5a5a5" stroke-width="0.9"/>
<path d="M187.52 339.32L185.75 338.91" stroke="#d8d8d8" stroke-width="1.1" stroke-linecap="round" fill="none"/>
<path d="M217.02 401.09L215.28 401.46L215.28 339.72L217.02 339.35Z" fill="#b2b2b2" stroke="#b2b2b2" stroke-width="0.9"/>
<path d="M217.02 339.35L215.28 339.72" stroke="#d8d8d8" stroke-width="1.1" stroke-linecap="round" fill="none"/>
<path d="M375.40 401.32L375.65 402.57L375.65 340.82L375.40 339.58Z" fill="#535353" stroke="#535353" stroke-width="0.9"/>
<path d="M375.40 339.58L375.65 340.82" stroke="#8c8c8c" stroke-width="0.8" stroke-linecap="round" fill="none"/>
<path d="M189.33 401.42L187.52 401.06L187.52 339.32L189.33 339.67Z" fill="#a7a7a7" stroke="#a7a7a7" stroke-width="0.9"/>
<path d="M189.33 339.67L187.52 339.32" stroke="#d8d8d8" stroke-width="1.1" stroke-linecap="round" fill="none"/>
<path d="M215.28 401.46L213.51 401.77L213.51 340.03L215.28 339.72Z" fill="#b2b2b2" stroke="#b2b2b2" stroke-width="0.9"/>
<path d="M215.28 339.72L213.51 340.03" stroke="#d8d8d8" stroke-width="1.1" stroke-linecap="round" fill="none"/>
<path d="M191.16 401.73L189.33 401.42L189.33 339.67L191.16 339.99Z" fill="#a8a8a8" stroke="#a8a8a8" stroke-width="0.9"/>
<path d="M191.16 339.99L189.33 339.67" stroke="#d8d8d8" stroke-width="1.1" stroke-linecap="round" fill="none"/>
<path d="M213.51 401.77L211.71 402.04L211.71 340.30L213.51 340.03Z" fill="#b2b2b2" stroke="#b2b2b2" stroke-width="0.9"/>
<path d="M213.51 340.03L211.71 340.30" stroke="#d8d8d8" stroke-width="1.1" stroke-linecap="round" fill="none"/>
<path d="M222.39 402.99L223.14 401.93L223.14 340.19L222.39 341.25Z" fill="#979797" stroke="#979797" stroke-width="0.9"/>
<path d="M222.39 341.25L223.14 340.19" stroke="#8c8c8c" stroke-width="0.8" stroke-linecap="round" fill="none"/>
<path d="M193.01 401.99L191.16 401.73L191.16 339.99L193.01 340.25Z" fill="#aaaaaa" stroke="#aaaaaa" stroke-width="0.9"/>
<path d="M193.01 340.25L191.16 339.99" stroke="#d8d8d8" stroke-width="1.1" stroke-linecap="round" fill="none"/>
<path d="M211.71 402.04L209.89 402.25L209.89 340.51L211.71 340.30Z" fill="#b2b2b2" stroke="#b2b2b2" stroke-width="0.9"/>
<path d="M211.71 340.30L209.89 340.51" stroke="#d8d8d8" stroke-width="1.1" stroke-linecap="round" fill="none"/>
<path d="M194.88 402.21L193.01 401.99L193.01 340.25L194.88 340.47Z" fill="#ababab" stroke="#ababab" stroke-width="0.9"/>
<path d="M194.88 340.47L193.01 340.25" stroke="#d8d8d8" stroke-width="1.1" stroke-linecap="round" fill="none"/>
<path d="M209.89 402.25L208.05 402.42L208.05 340.67L209.89 340.51Z" fill="#b2b2b2" stroke="#b2b2b2" stroke-width="0.9"/>
<path d="M209.89 340.51L208.05 340.67" stroke="#d8d8d8" stroke-width="1.1" stroke-linecap="round" fill="none"/>
<path d="M375.65 402.57L375.80 403.82L375.80 342.08L375.65 340.82Z" fill="#474747" stroke="#474747" stroke-width="0.9"/>
<path d="M375.65 340.82L375.80 342.08" stroke="#8c8c8c" stroke-width="0.8" stroke-linecap="round" fill="none"/>
<path d="M196.76 402.38L194.88 402.21L194.88 340.47L196.76 340.64Z" fill="#acacac" stroke="#acacac" stroke-width="0.9"/>
<path d="M196.76 340.64L194.88 340.47" stroke="#d8d8d8" stroke-width="1.1" stroke-linecap="round" fill="none"/>
<path d="M208.05 402.42L206.18 402.53L206.18 340.79L208.05 340.67Z" fill="#b1b1b1" stroke="#b1b1b1" stroke-width="0.9"/>
<path d="M208.05 340.67L206.18 340.79" stroke="#d8d8d8" stroke-width="1.1" stroke-linecap="round" fill="none"/>
<path d="M198.65 402.50L196.76 402.38L196.76 340.64L198.65 340.76Z" fill="#aeaeae" stroke="#aeaeae" stroke-width="0.9"/>
<path d="M198.65 340.76L196.76 340.64" stroke="#d8d8d8" stroke-width="1.1" stroke-linecap="round" fill="none"/>
<path d="M206.18 402.53L204.31 402.60L204.31 340.85L206.18 340.79Z" fill="#b1b1b1" stroke="#b1b1b1" stroke-width="0.9"/>
<path d="M206.18 340.79L204.31 340.85" stroke="#d8d8d8" stroke-width="1.1" stroke-linecap="round" fill="none"/>
<path d="M200.54 402.58L198.65 402.50L198.65 340.76L200.54 340.84Z" fill="#afafaf" stroke="#afafaf" stroke-width="0.9"/>
<path d="M200.54 340.84L198.65 340.76" stroke="#d8d8d8" stroke-width="1.1" stroke-linecap="round" fill="none"/>
<path d="M204.31 402.60L202.43 402.61L202.43 340.87L204.31 340.85Z" fill="#b0b0b0" stroke="#b0b0b0" stroke-width="0.9"/>
<path d="M204.31 340.85L202.43 340.87" stroke="#d8d8d8" stroke-width="1.1" stroke-linecap="round" fill="none"/>
<path d="M202.43 402.61L200.54 402.58L200.54 340.84L202.43 340.87Z" fill="#afafaf" stroke="#afafaf" stroke-width="0.9"/>
<path d="M202.43 340.87L200.54 340.84" stroke="#d8d8d8" stroke-width="1.1" stroke-linecap="round" fill="none"/>
<path d="M221.74 404.08L222.39 402.99L222.39 341.25L221.74 342.34Z" fill="#939393" stroke="#939393" stroke-width="0.9"/>
<path d="M221.74 342.34L222.39 341.25" stroke="#8c8c8c" stroke-width="0.8" stroke-linecap="round" fill="none"/>
<path d="M375.80 403.82L375.86 405.07L375.86 343.33L375.80 342.08Z" fill="#353535" stroke="#353535" stroke-width="0.9"/>
<path d="M375.80 342.08L375.86 343.33" stroke="#8c8c8c" stroke-width="0.8" stroke-linecap="round" fill="none"/>
<path d="M221.17 405.20L221.74 404.08L221.74 342.34L221.17 343.45Z" fill="#8f8f8f" stroke="#8f8f8f" stroke-width="0.9"/>
<path d="M221.17 343.45L221.74 342.34" stroke="#8c8c8c" stroke-width="0.8" stroke-linecap="round" fill="none"/>
<path d="M375.86 405.07L375.83 406.32L375.83 344.58L375.86 343.33Z" fill="#555555" stroke="#555555" stroke-width="0.9"/>
<path d="M375.86 343.33L375.83 344.58" stroke="#d8d8d8" stroke-width="1.1" stroke-linecap="round" fill="none"/>
<path d="M375.86 405.07L375.86 343.33" stroke="#505050" stroke-width="1.0" fill="none"/>
<path d="M220.69 406.34L221.17 405.20L221.17 343.45L220.69 344.59Z" fill="#898989" stroke="#898989" stroke-width="0.9"/>
<path d="M220.69 344.59L221.17 343.45" stroke="#8c8c8c" stroke-width="0.8" stroke-linecap="round" fill="none"/>
<path d="M375.83 406.32L375.70 407.56L375.70 345.82L375.83 344.58Z" fill="#696969" stroke="#696969" stroke-width="0.9"/>
<path d="M375.83 344.58L375.70 345.82" stroke="#d8d8d8" stroke-width="1.1" stroke-linecap="round" fill="none"/>
<path d="M220.30 407.50L220.69 406.34L220.69 344.59L220.30 345.76Z" fill="#838383" stroke="#838383" stroke-width="0.9"/>
<path d="M220.30 345.76L220.69 344.59" stroke="#8c8c8c" stroke-width="0.8" stroke-linecap="round" fill="none"/>
<path d="M375.70 407.56L375.48 408.80L375.48 347.06L375.70 345.82Z" fill="#747474" stroke="#747474" stroke-width="0.9"/>
<path d="M375.70 345.82L375.48 347.06" stroke="#d8d8d8" stroke-width="1.1" stroke-linecap="round" fill="none"/>
<path d="M220.01 408.68L220.30 407.50L220.30 345.76L220.01 346.94Z" fill="#7c7c7c" stroke="#7c7c7c" stroke-width="0.9"/>
<path d="M220.01 346.94L220.30 345.76" stroke="#8c8c8c" stroke-width="0.8" stroke-linecap="round" fill="none"/>
<path d="M375.48 408.80L375.17 410.03L375.17 348.29L375.48 347.06Z" fill="#7d7d7d" stroke="#7d7d7d" stroke-width="0.9"/>
<path d="M375.48 347.06L375.17 348.29" stroke="#d8d8d8" stroke-width="1.1" stroke-linecap="round" fill="none"/>
<path d="M219.81 409.88L220.01 408.68L220.01 346.94L219.81 348.14Z" fill="#737373" stroke="#737373" stroke-width="0.9"/>
<path d="M219.81 348.14L220.01 346.94" stroke="#8c8c8c" stroke-width="0.8" stroke-linecap="round" fill="none"/>
<path d="M375.17 410.03L374.76 411.24L374.76 349.50L375.17 348.29Z" fill="#848484" stroke="#848484" stroke-width="0.9"/>
<path d="M375.17 348.29L374.76 349.50" stroke="#d8d8d8" stroke-width="1.1" stroke-linecap="round" fill="none"/>
<path d="M219.70 411.10L219.81 409.88L219.81 348.14L219.70 349.35Z" fill="#686868" stroke="#686868" stroke-width="0.9"/>
<path d="M219.70 349.35L219.81 348.14" stroke="#8c8c8c" stroke-width="0.8" stroke-linecap="round" fill="none"/>
<path d="M374.76 411.24L374.27 412.44L374.27 350.70L374.76 349.50Z" fill="#8a8a8a" stroke="#8a8a8a" stroke-width="0.9"/>
<path d="M374.76 349.50L374.27 350.70" stroke="#d8d8d8" stroke-width="1.1" stroke-linecap="round" fill="none"/>
<path d="M219.69 412.33L219.70 411.10L219.70 349.35L219.69 350.58Z" fill="#535353" stroke="#535353" stroke-width="0.9"/>
<path d="M219.69 350.58L219.70 349.35" stroke="#8c8c8c" stroke-width="0.8" stroke-linecap="round" fill="none"/>
<path d="M374.27 412.44L373.68 413.63L373.68 351.88L374.27 350.70Z" fill="#8f8f8f" stroke="#8f8f8f" stroke-width="0.9"/>
<path d="M374.27 350.70L373.68 351.88" stroke="#d8d8d8" stroke-width="1.1" stroke-linecap="round" fill="none"/>
<path d="M219.77 413.56L219.69 412.33L219.69 350.58L219.77 351.82Z" fill="#373737" stroke="#373737" stroke-width="0.9"/>
<path d="M219.77 351.82L219.69 350.58" stroke="#d8d8d8" stroke-width="1.1" stroke-linecap="round" fill="none"/>
<path d="M219.69 412.33L219.69 350.58" stroke="#505050" stroke-width="1.0" fill="none"/>
<path d="M373.68 413.63L373.00 414.79L373.00 353.05L373.68 351.88Z" fill="#939393" stroke="#939393" stroke-width="0.9"/>
<path d="M373.68 351.88L373.00 353.05" stroke="#d8d8d8" stroke-width="1.1" stroke-linecap="round" fill="none"/>
<path d="M219.95 414.81L219.77 413.56L219.77 351.82L219.95 353.06Z" fill="#484848" stroke="#484848" stroke-width="0.9"/>
<path d="M219.95 353.06L219.77 351.82" stroke="#d8d8d8" stroke-width="1.1" stroke-linecap="round" fill="none"/>
<path d="M300.09 414.96L299.19 414.86L299.19 353.12L300.09 353.22Z" fill="#cdcdcd" stroke="#cdcdcd" stroke-width="0.9"/>
<path d="M300.09 353.22L299.19 353.12" stroke="#d8d8d8" stroke-width="1.1" stroke-linecap="round" fill="none"/>
<path d="M299.19 414.86L298.38 415.13L298.38 353.39L299.19 353.12Z" fill="#cdcdcd" stroke="#cdcdcd" stroke-width="0.9"/>
<path d="M299.19 353.12L298.38 353.39" stroke="#d8d8d8" stroke-width="1.1" stroke-linecap="round" fill="none"/>
<path d="M300.70 415.39L300.09 414.96L300.09 353.22L300.70 353.65Z" fill="#cdcdcd" stroke="#cdcdcd" stroke-width="0.9"/>
<path d="M300.70 353.65L300.09 353.22" stroke="#d8d8d8" stroke-width="1.1" stroke-linecap="round" fill="none"/>
<path d="M373.00 414.79L372.24 415.93L372.24 354.19L373.00 353.05Z" fill="#979797" stroke="#979797" stroke-width="0.9"/>
<path d="M373.00 353.05L372.24 354.19" stroke="#d8d8d8" stroke-width="1.1" stroke-linecap="round" fill="none"/>
<path d="M298.38 415.13L298.00 415.67L298.00 353.93L298.38 353.39Z" fill="#cdcdcd" stroke="#cdcdcd" stroke-width="0.9"/>
<path d="M298.38 353.39L298.00 353.93" stroke="#d8d8d8" stroke-width="1.1" stroke-linecap="round" fill="none"/>
<path d="M301.51 416.52L300.70 415.39L300.70 353.65L301.51 354.78Z" fill="#7a7a7a" stroke="#7a7a7a" stroke-width="0.9"/>
<path d="M301.51 354.78L300.70 353.65" stroke="#d8d8d8" stroke-width="1.1" stroke-linecap="round" fill="none"/>
<path d="M220.21 416.05L219.95 414.81L219.95 353.06L220.21 354.31Z" fill="#535353" stroke="#535353" stroke-width="0.9"/>
<path d="M220.21 354.31L219.95 353.06" stroke="#d8d8d8" stroke-width="1.1" stroke-linecap="round" fill="none"/>
<path d="M298.00 415.67L297.73 416.91L297.73 355.17L298.00 353.93Z" fill="#787878" stroke="#787878" stroke-width="0.9"/>
<path d="M298.00 353.93L297.73 355.17" stroke="#d8d8d8" stroke-width="1.1" stroke-linecap="round" fill="none"/>
<path d="M372.24 415.93L371.39 417.05L371.39 355.31L372.24 354.19Z" fill="#9b9b9b" stroke="#9b9b9b" stroke-width="0.9"/>
<path d="M372.24 354.19L371.39 355.31" stroke="#d8d8d8" stroke-width="1.1" stroke-linecap="round" fill="none"/>
<path d="M302.41 417.62L301.51 416.52L301.51 354.78L302.41 355.88Z" fill="#7e7e7e" stroke="#7e7e7e" stroke-width="0.9"/>
<path d="M302.41 355.88L301.51 354.78" stroke="#d8d8d8" stroke-width="1.1" stroke-linecap="round" fill="none"/>
<path d="M220.57 417.30L220.21 416.05L220.21 354.31L220.57 355.56Z" fill="#5c5c5c" stroke="#5c5c5c" stroke-width="0.9"/>
<path d="M220.57 355.56L220.21 354.31" stroke="#d8d8d8" stroke-width="1.1" stroke-linecap="round" fill="none"/>
<path d="M371.39 417.05L370.45 418.14L370.45 356.40L371.39 355.31Z" fill="#9e9e9e" stroke="#9e9e9e" stroke-width="0.9"/>
<path d="M371.39 355.31L370.45 356.40" stroke="#d8d8d8" stroke-width="1.1" stroke-linecap="round" fill="none"/>
<path d="M297.73 416.91L297.38 418.13L297.38 356.39L297.73 355.17Z" fill="#808080" stroke="#808080" stroke-width="0.9"/>
<path d="M297.73 355.17L297.38 356.39" stroke="#d8d8d8" stroke-width="1.1" stroke-linecap="round" fill="none"/>
<path d="M303.39 418.69L302.41 417.62L302.41 355.88L303.39 356.95Z" fill="#828282" stroke="#828282" stroke-width="0.9"/>
<path d="M303.39 356.95L302.41 355.88" stroke="#d8d8d8" stroke-width="1.1" stroke-linecap="round" fill="none"/>
<path d="M221.02 418.54L220.57 417.30L220.57 355.56L221.02 356.80Z" fill="#636363" stroke="#636363" stroke-width="0.9"/>
<path d="M221.02 356.80L220.57 355.56" stroke="#d8d8d8" stroke-width="1.1" stroke-linecap="round" fill="none"/>
<path d="M370.45 418.14L369.44 419.20L369.44 357.46L370.45 356.40Z" fill="#a1a1a1" stroke="#a1a1a1" stroke-width="0.9"/>
<path d="M370.45 356.40L369.44 357.46" stroke="#d8d8d8" stroke-width="1.1" stroke-linecap="round" fill="none"/>
<path d="M297.38 418.13L296.93 419.35L296.93 357.61L297.38 356.39Z" fill="#868686" stroke="#868686" stroke-width="0.9"/>
<path d="M297.38 356.39L296.93 357.61" stroke="#d8d8d8" stroke-width="1.1" stroke-linecap="round" fill="none"/>
<path d="M304.45 419.73L303.39 418.69L303.39 356.95L304.45 357.99Z" fill="#868686" stroke="#868686" stroke-width="0.9"/>
<path d="M304.45 357.99L303.39 356.95" stroke="#d8d8d8" stroke-width="1.1" stroke-linecap="round" fill="none"/>
<path d="M369.44 419.20L368.35 420.23L368.35 358.49L369.44 357.46Z" fill="#a4a4a4" stroke="#a4a4a4" stroke-width="0.9"/>
<path d="M369.44 357.46L368.35 358.49" stroke="#d8d8d8" stroke-width="1.1" stroke-linecap="round" fill="none"/>
<path d="M221.56 419.78L221.02 418.54L221.02 356.80L221.56 358.04Z" fill="#696969" stroke="#696969" stroke-width="0.9"/>
<path d="M221.56 358.04L221.02 356.80" stroke="#d8d8d8" stroke-width="1.1" stroke-linecap="round" fill="none"/>
<path d="M296.93 419.35L296.39 420.55L296.39 358.81L296.93 357.61Z" fill="#8c8c8c" stroke="#8c8c8c" stroke-width="0.9"/>
<path d="M296.93 357.61L296.39 358.81" stroke="#d8d8d8" stroke-width="1.1" stroke-linecap="round" fill="none"/>
<path d="M305.58 420.74L304.45 419.73L304.45 357.99L305.58 359.00Z" fill="#898989" stroke="#898989" stroke-width="0.9"/>
<path d="M305.58 359.00L304.45 357.99" stroke="#d8d8d8" stroke-width="1.1" stroke-linecap="round" fill="none"/>
<path d="M368.35 420.23L367.18 421.22L367.18 359.48L368.35 358.49Z" fill="#a6a6a6" stroke="#a6a6a6" stroke-width="0.9"/>
<path d="M368.35 358.49L367.18 359.48" stroke="#d8d8d8" stroke-width="1.1" stroke-linecap="round" fill="none"/>
<path d="M222.19 421.01L221.56 419.78L221.56 358.04L222.19 359.26Z" fill="#6f6f6f" stroke="#6f6f6f" stroke-width="0.9"/>
<path d="M222.19 359.26L221.56 358.04" stroke="#d8d8d8" stroke-width="1.1" stroke-linecap="round" fill="none"/>
<path d="M296.39 420.55L295.77 421.73L295.77 359.99L296.39 358.81Z" fill="#919191" stroke="#919191" stroke-width="0.9"/>
<path d="M296.39 358.81L295.77 359.99" stroke="#d8d8d8" stroke-width="1.1" stroke-linecap="round" fill="none"/>
<path d="M306.78 421.72L305.58 420.74L305.58 359.00L306.78 359.97Z" fill="#8c8c8c" stroke="#8c8c8c" stroke-width="0.9"/>
<path d="M306.78 359.97L305.58 359.00" stroke="#d8d8d8" stroke-width="1.1" stroke-linecap="round" fill="none"/>
<path d="M367.18 421.22L365.93 422.18L365.93 360.44L367.18 359.48Z" fill="#a8a8a8" stroke="#a8a8a8" stroke-width="0.9"/>
<path d="M367.18 359.48L365.93 360.44" stroke="#d8d8d8" stroke-width="1.1" stroke-linecap="round" fill="none"/>
<path d="M222.90 422.22L222.19 421.01L222.19 359.26L222.90 360.47Z" fill="#747474" stroke="#747474" stroke-width="0.9"/>
<path d="M222.90 360.47L222.19 359.26" stroke="#d8d8d8" stroke-width="1.1" stroke-linecap="round" fill="none"/>
<path d="M308.06 422.65L306.78 421.72L306.78 359.97L308.06 360.91Z" fill="#8f8f8f" stroke="#8f8f8f" stroke-width="0.9"/>
<path d="M308.06 360.91L306.78 359.97" stroke="#d8d8d8" stroke-width="1.1" stroke-linecap="round" fill="none"/>
<path d="M295.77 421.73L295.06 422.90L295.06 361.15L295.77 359.99Z" fill="#959595" stroke="#959595" stroke-width="0.9"/>
<path d="M295.77 359.99L295.06 361.15" stroke="#d8d8d8" stroke-width="1.1" stroke-linecap="round" fill="none"/>
<path d="M365.93 422.18L364.62 423.10L364.62 361.36L365.93 360.44Z" fill="#aaaaaa" stroke="#aaaaaa" stroke-width="0.9"/>
<path d="M365.93 360.44L364.62 361.36" stroke="#d8d8d8" stroke-width="1.1" stroke-linecap="round" fill="none"/>
<path d="M309.40 423.55L308.06 422.65L308.06 360.91L309.40 361.81Z" fill="#929292" stroke="#929292" stroke-width="0.9"/>
<path d="M309.40 361.81L308.06 360.91" stroke="#d8d8d8" stroke-width="1.1" stroke-linecap="round" fill="none"/>
<path d="M223.70 423.41L222.90 422.22L222.90 360.47L223.70 361.67Z" fill="#787878" stroke="#787878" stroke-width="0.9"/>
<path d="M223.70 361.67L222.90 360.47" stroke="#d8d8d8" stroke-width="1.1" stroke-linecap="round" fill="none"/>
<path d="M364.62 423.10L363.24 423.98L363.24 362.24L364.62 361.36Z" fill="#acacac" stroke="#acacac" stroke-width="0.9"/>
<path d="M364.62 361.36L363.24 362.24" stroke="#d8d8d8" stroke-width="1.1" stroke-linecap="round" fill="none"/>
<path d="M295.06 422.90L294.26 424.04L294.26 362.29L295.06 361.15Z" fill="#999999" stroke="#999999" stroke-width="0.9"/>
<path d="M295.06 361.15L294.26 362.29" stroke="#d8d8d8" stroke-width="1.1" stroke-linecap="round" fill="none"/>
<path d="M310.80 424.40L309.40 423.55L309.40 361.81L310.80 362.66Z" fill="#959595" stroke="#959595" stroke-width="0.9"/>
<path d="M310.80 362.66L309.40 361.81" stroke="#d8d8d8" stroke-width="1.1" stroke-linecap="round" fill="none"/>
<path d="M363.24 423.98L361.79 424.82L361.79 363.07L363.24 362.24Z" fill="#adadad" stroke="#adadad" stroke-width="0.9"/>
<path d="M363.24 362.24L361.79 363.07" stroke="#d8d8d8" stroke-width="1.1" stroke-linecap="round" fill="none"/>
<path d="M224.58 424.58L223.70 423.41L223.70 361.67L224.58 362.84Z" fill="#7c7c7c" stroke="#7c7c7c" stroke-width="0.9"/>
<path d="M224.58 362.84L223.70 361.67" stroke="#d8d8d8" stroke-width="1.1" stroke-linecap="round" fill="none"/>
<path d="M294.26 424.04L293.38 425.15L293.38 363.41L294.26 362.29Z" fill="#9c9c9c" stroke="#9c9c9c" stroke-width="0.9"/>
<path d="M294.26 362.29L293.38 363.41" stroke="#d8d8d8" stroke-width="1.1" stroke-linecap="round" fill="none"/>
<path d="M312.27 425.21L310.80 424.40L310.80 362.66L312.27 363.47Z" fill="#989898" stroke="#989898" stroke-width="0.9"/>
<path d="M312.27 363.47L310.80 362.66" stroke="#d8d8d8" stroke-width="1.1" stroke-linecap="round" fill="none"/>
<path d="M361.79 424.82L360.29 425.61L360.29 363.86L361.79 363.07Z" fill="#aeaeae" stroke="#aeaeae" stroke-width="0.9"/>
<path d="M361.79 363.07L360.29 363.86" stroke="#d8d8d8" stroke-width="1.1" stroke-linecap="round" fill="none"/>
<path d="M225.54 425.73L224.58 424.58L224.58 362.84L225.54 363.98Z" fill="#808080" stroke="#808080" stroke-width="0.9"/>
<path d="M225.54 363.98L224.58 362.84" stroke="#d8d8d8" stroke-width="1.1" stroke-linecap="round" fill="none"/>
<path d="M313.79 425.98L312.27 425.21L312.27 363.47L313.79 364.23Z" fill="#9a9a9a" stroke="#9a9a9a" stroke-width="0.9"/>
<path d="M313.79 364.23L312.27 363.47" stroke="#d8d8d8" stroke-width="1.1" stroke-linecap="round" fill="none"/>
<path d="M293.38 425.15L292.42 426.24L292.42 364.50L293.38 363.41Z" fill="#a0a0a0" stroke="#a0a0a0" stroke-width="0.9"/>
<path d="M293.38 363.41L292.42 364.50" stroke="#d8d8d8" stroke-width="1.1" stroke-linecap="round" fill="none"/>
<path d="M360.29 425.61L358.73 426.35L358.73 364.61L360.29 363.86Z" fill="#afafaf" stroke="#afafaf" stroke-width="0.9"/>
<path d="M360.29 363.86L358.73 364.61" stroke="#d8d8d8" stroke-width="1.1" stroke-linecap="round" fill="none"/>
<path d="M315.37 426.69L313.79 425.98L313.79 364.23L315.37 364.95Z" fill="#9c9c9c" stroke="#9c9c9c" stroke-width="0.9"/>
<path d="M315.37 364.95L313.79 364.23" stroke="#d8d8d8" stroke-width="1.1" stroke-linecap="round" fill="none"/>
<path d="M226.58 426.84L225.54 425.73L225.54 363.98L226.58 365.10Z" fill="#848484" stroke="#848484" stroke-width="0.9"/>
<path d="M226.58 365.10L225.54 363.98" stroke="#d8d8d8" stroke-width="1.1" stroke-linecap="round" fill="none"/>
<path d="M358.73 426.35L357.12 427.04L357.12 365.30L358.73 364.61Z" fill="#b0b0b0" stroke="#b0b0b0" stroke-width="0.9"/>
<path d="M358.73 364.61L357.12 365.30" stroke="#d8d8d8" stroke-width="1.1" stroke-linecap="round" fill="none"/>
<path d="M292.42 426.24L291.38 427.30L291.38 365.55L292.42 364.50Z" fill="#a2a2a2" stroke="#a2a2a2" stroke-width="0.9"/>
<path d="M292.42 364.50L291.38 365.55" stroke="#d8d8d8" stroke-width="1.1" stroke-linecap="round" fill="none"/>
<path d="M317.00 427.36L315.37 426.69L315.37 364.95L317.00 365.62Z" fill="#9f9f9f" stroke="#9f9f9f" stroke-width="0.9"/>
<path d="M317.00 365.62L315.37 364.95" stroke="#d8d8d8" stroke-width="1.1" stroke-linecap="round" fill="none"/>
<path d="M357.12 427.04L355.45 427.68L355.45 365.94L357.12 365.30Z" fill="#b1b1b1" stroke="#b1b1b1" stroke-width="0.9"/>
<path d="M357.12 365.30L355.45 365.94" stroke="#d8d8d8" stroke-width="1.1" stroke-linecap="round" fill="none"/>
<path d="M227.69 427.93L226.58 426.84L226.58 365.10L227.69 366.19Z" fill="#888888" stroke="#888888" stroke-width="0.9"/>
<path d="M227.69 366.19L226.58 365.10" stroke="#d8d8d8" stroke-width="1.1" stroke-linecap="round" fill="none"/>
<path d="M318.68 427.97L317.00 427.36L317.00 365.62L318.68 366.23Z" fill="#a1a1a1" stroke="#a1a1a1" stroke-width="0.9"/>
<path d="M318.68 366.23L317.00 365.62" stroke="#d8d8d8" stroke-width="1.1" stroke-linecap="round" fill="none"/>
<path d="M291.38 427.30L290.26 428.32L290.26 366.58L291.38 365.55Z" fill="#a5a5a5" stroke="#a5a5a5" stroke-width="0.9"/>
<path d="M291.38 365.55L290.26 366.58" stroke="#d8d8d8" stroke-width="1.1" stroke-linecap="round" fill="none"/>
<path d="M355.45 427.68L353.75 428.27L353.75 366.53L355.45 365.94Z" fill="#b2b2b2" stroke="#b2b2b2" stroke-width="0.9"/>
<path d="M355.45 365.94L353.75 366.53" stroke="#d8d8d8" stroke-width="1.1" stroke-linecap="round" fill="none"/>
<path d="M320.39 428.53L318.68 427.97L318.68 366.23L320.39 366.79Z" fill="#a3a3a3" stroke="#a3a3a3" stroke-width="0.9"/>
<path d="M320.39 366.79L318.68 366.23" stroke="#d8d8d8" stroke-width="1.1" stroke-linecap="round" fill="none"/>
<path d="M353.75 428.27L352.00 428.81L352.00 367.06L353.75 366.53Z" fill="#b2b2b2" stroke="#b2b2b2" stroke-width="0.9"/>
<path d="M353.75 366.53L352.00 367.06" stroke="#d8d8d8" stroke-width="1.1" stroke-linecap="round" fill="none"/>
<path d="M228.88 428.98L227.69 427.93L227.69 366.19L228.88 367.24Z" fill="#8b8b8b" stroke="#8b8b8b" stroke-width="0.9"/>
<path d="M228.88 367.24L227.69 366.19" stroke="#d8d8d8" stroke-width="1.1" stroke-linecap="round" fill="none"/>
<path d="M322.15 429.04L320.39 428.53L320.39 366.79L322.15 367.30Z" fill="#a5a5a5" stroke="#a5a5a5" stroke-width="0.9"/>
<path d="M322.15 367.30L320.39 366.79" stroke="#d8d8d8" stroke-width="1.1" stroke-linecap="round" fill="none"/>
<path d="M290.26 428.32L289.07 429.31L289.07 367.57L290.26 366.58Z" fill="#a7a7a7" stroke="#a7a7a7" stroke-width="0.9"/>
<path d="M290.26 366.58L289.07 367.57" stroke="#d8d8d8" stroke-width="1.1" stroke-linecap="round" fill="none"/>
<path d="M352.00 428.81L350.21 429.28L350.21 367.54L352.00 367.06Z" fill="#b2b2b2" stroke="#b2b2b2" stroke-width="0.9"/>
<path d="M352.00 367.06L350.21 367.54" stroke="#d8d8d8" stroke-width="1.1" stroke-linecap="round" fill="none"/>
<path d="M323.94 429.49L322.15 429.04L322.15 367.30L323.94 367.74Z" fill="#a6a6a6" stroke="#a6a6a6" stroke-width="0.9"/>
<path d="M323.94 367.74L322.15 367.30" stroke="#d8d8d8" stroke-width="1.1" stroke-linecap="round" fill="none"/>
<path d="M350.21 429.28L348.40 429.70L348.40 367.96L350.21 367.54Z" fill="#b2b2b2" stroke="#b2b2b2" stroke-width="0.9"/>
<path d="M350.21 367.54L348.40 367.96" stroke="#d8d8d8" stroke-width="1.1" stroke-linecap="round" fill="none"/>
<path d="M230.14 429.99L228.88 428.98L228.88 367.24L230.14 368.25Z" fill="#8e8e8e" stroke="#8e8e8e" stroke-width="0.9"/>
<path d="M230.14 368.25L228.88 367.24" stroke="#d8d8d8" stroke-width="1.1" stroke-linecap="round" fill="none"/>
<path d="M325.76 429.88L323.94 429.49L323.94 367.74L325.76 368.13Z" fill="#a8a8a8" stroke="#a8a8a8" stroke-width="0.9"/>
<path d="M325.76 368.13L323.94 367.74" stroke="#d8d8d8" stroke-width="1.1" stroke-linecap="round" fill="none"/>
<path d="M348.40 429.70L346.56 430.06L346.56 368.32L348.40 367.96Z" fill="#b2b2b2" stroke="#b2b2b2" stroke-width="0.9"/>
<path d="M348.40 367.96L346.56 368.32" stroke="#d8d8d8" stroke-width="1.1" stroke-linecap="round" fill="none"/>
<path d="M289.07 429.31L287.81 430.26L287.81 368.52L289.07 367.57Z" fill="#a9a9a9" stroke="#a9a9a9" stroke-width="0.9"/>
<path d="M289.07 367.57L287.81 368.52" stroke="#d8d8d8" stroke-width="1.1" stroke-linecap="round" fill="none"/>
<path d="M327.61 430.20L325.76 429.88L325.76 368.13L327.61 368.46Z" fill="#a9a9a9" stroke="#a9a9a9" stroke-width="0.9"/>
<path d="M327.61 368.46L325.76 368.13" stroke="#d8d8d8" stroke-width="1.1" stroke-linecap="round" fill="none"/>
<path d="M346.56 430.06L344.69 430.36L344.69 368.61L346.56 368.32Z" fill="#b2b2b2" stroke="#b2b2b2" stroke-width="0.9"/>
<path d="M346.56 368.32L344.69 368.61" stroke="#d8d8d8" stroke-width="1.1" stroke-linecap="round" fill="none"/>
<path d="M329.48 430.47L327.61 430.20L327.61 368.46L329.48 368.73Z" fill="#ababab" stroke="#ababab" stroke-width="0.9"/>
<path d="M329.48 368.73L327.61 368.46" stroke="#d8d8d8" stroke-width="1.1" stroke-linecap="round" fill="none"/>
<path d="M344.69 430.36L342.81 430.59L342.81 368.85L344.69 368.61Z" fill="#b2b2b2" stroke="#b2b2b2" stroke-width="0.9"/>
<path d="M344.69 368.61L342.81 368.85" stroke="#d8d8d8" stroke-width="1.1" stroke-linecap="round" fill="none"/>
<path d="M331.37 430.68L329.48 430.47L329.48 368.73L331.37 368.94Z" fill="#acacac" stroke="#acacac" stroke-width="0.9"/>
<path d="M331.37 368.94L329.48 368.73" stroke="#d8d8d8" stroke-width="1.1" stroke-linecap="round" fill="none"/>
<path d="M231.47 430.96L230.14 429.99L230.14 368.25L231.47 369.22Z" fill="#919191" stroke="#919191" stroke-width="0.9"/>
<path d="M231.47 369.22L230.14 368.25" stroke="#d8d8d8" stroke-width="1.1" stroke-linecap="round" fill="none"/>
<path d="M342.81 430.59L340.91 430.77L340.91 369.02L342.81 368.85Z" fill="#b1b1b1" stroke="#b1b1b1" stroke-width="0.9"/>
<path d="M342.81 368.85L340.91 369.02" stroke="#d8d8d8" stroke-width="1.1" stroke-linecap="round" fill="none"/>
<path d="M333.27 430.82L331.37 430.68L331.37 368.94L333.27 369.08Z" fill="#adadad" stroke="#adadad" stroke-width="0.9"/>
<path d="M333.27 369.08L331.37 368.94" stroke="#d8d8d8" stroke-width="1.1" stroke-linecap="round" fill="none"/>
<path d="M340.91 430.77L339.00 430.88L339.00 369.13L340.91 369.02Z" fill="#b1b1b1" stroke="#b1b1b1" stroke-width="0.9"/>
<path d="M340.91 369.02L339.00 369.13" stroke="#d8d8d8" stroke-width="1.1" stroke-linecap="round" fill="none"/>
<path d="M335.17 430.90L333.27 430.82L333.27 369.08L335.17 369.16Z" fill="#aeaeae" stroke="#aeaeae" stroke-width="0.9"/>
<path d="M335.17 369.16L333.27 369.08" stroke="#d8d8d8" stroke-width="1.1" stroke-linecap="round" fill="none"/>
<path d="M287.81 430.26L286.48 431.18L286.48 369.43L287.81 368.52Z" fill="#ababab" stroke="#ababab" stroke-width="0.9"/>
<path d="M287.81 368.52L286.48 369.43" stroke="#d8d8d8" stroke-width="1.1" stroke-linecap="round" fill="none"/>
<path d="M339.00 430.88L337.09 430.92L337.09 369.18L339.00 369.13Z" fill="#b0b0b0" stroke="#b0b0b0" stroke-width="0.9"/>
<path d="M339.00 369.13L337.09 369.18" stroke="#d8d8d8" stroke-width="1.1" stroke-linecap="round" fill="none"/>
<path d="M337.09 430.92L335.17 430.90L335.17 369.16L337.09 369.18Z" fill="#afafaf" stroke="#afafaf" stroke-width="0.9"/>
<path d="M337.09 369.18L335.17 369.16" stroke="#d8d8d8" stroke-width="1.1" stroke-linecap="round" fill="none"/>
<path d="M232.86 431.88L231.47 430.96L231.47 369.22L232.86 370.14Z" fill="#949494" stroke="#949494" stroke-width="0.9"/>
<path d="M232.86 370.14L231.47 369.22" stroke="#d8d8d8" stroke-width="1.1" stroke-linecap="round" fill="none"/>
<path d="M286.48 431.18L285.09 432.05L285.09 370.31L286.48 369.43Z" fill="#acacac" stroke="#acacac" stroke-width="0.9"/>
<path d="M286.48 369.43L285.09 370.31" stroke="#d8d8d8" stroke-width="1.1" stroke-linecap="round" fill="none"/>
<path d="M234.31 432.76L232.86 431.88L232.86 370.14L234.31 371.02Z" fill="#979797" stroke="#979797" stroke-width="0.9"/>
<path d="M234.31 371.02L232.86 370.14" stroke="#d8d8d8" stroke-width="1.1" stroke-linecap="round" fill="none"/>
<path d="M285.09 432.05L283.63 432.88L283.63 371.13L285.09 370.31Z" fill="#aeaeae" stroke="#aeaeae" stroke-width="0.9"/>
<path d="M285.09 370.31L283.63 371.13" stroke="#d8d8d8" stroke-width="1.1" stroke-linecap="round" fill="none"/>
<path d="M235.82 433.58L234.31 432.76L234.31 371.02L235.82 371.84Z" fill="#999999" stroke="#999999" stroke-width="0.9"/>
<path d="M235.82 371.84L234.31 371.02" stroke="#d8d8d8" stroke-width="1.1" stroke-linecap="round" fill="none"/>
<path d="M283.63 432.88L282.12 433.66L282.12 371.92L283.63 371.13Z" fill="#afafaf" stroke="#afafaf" stroke-width="0.9"/>
<path d="M283.63 371.13L282.12 371.92" stroke="#d8d8d8" stroke-width="1.1" stroke-linecap="round" fill="none"/>
<path d="M237.38 434.36L235.82 433.58L235.82 371.84L237.38 372.62Z" fill="#9b9b9b" stroke="#9b9b9b" stroke-width="0.9"/>
<path d="M237.38 372.62L235.82 371.84" stroke="#d8d8d8" stroke-width="1.1" stroke-linecap="round" fill="none"/>
<path d="M282.12 433.66L280.55 434.40L280.55 372.65L282.12 371.92Z" fill="#b0b0b0" stroke="#b0b0b0" stroke-width="0.9"/>
<path d="M282.12 371.92L280.55 372.65" stroke="#d8d8d8" stroke-width="1.1" stroke-linecap="round" fill="none"/>
<path d="M238.99 435.08L237.38 434.36L237.38 372.62L238.99 373.33Z" fill="#9e9e9e" stroke="#9e9e9e" stroke-width="0.9"/>
<path d="M238.99 373.33L237.38 372.62" stroke="#d8d8d8" stroke-width="1.1" stroke-linecap="round" fill="none"/>
<path d="M280.55 434.40L278.93 435.08L278.93 373.34L280.55 372.65Z" fill="#b1b1b1" stroke="#b1b1b1" stroke-width="0.9"/>
<path d="M280.55 372.65L278.93 373.34" stroke="#d8d8d8" stroke-width="1.1" stroke-linecap="round" fill="none"/>
<path d="M240.65 435.74L238.99 435.08L238.99 373.33L240.65 374.00Z" fill="#a0a0a0" stroke="#a0a0a0" stroke-width="0.9"/>
<path d="M240.65 374.00L238.99 373.33" stroke="#d8d8d8" stroke-width="1.1" stroke-linecap="round" fill="none"/>
<path d="M278.93 435.08L277.27 435.72L277.27 373.97L278.93 373.34Z" fill="#b1b1b1" stroke="#b1b1b1" stroke-width="0.9"/>
<path d="M278.93 373.34L277.27 373.97" stroke="#d8d8d8" stroke-width="1.1" stroke-linecap="round" fill="none"/>
<path d="M242.36 436.34L240.65 435.74L240.65 374.00L242.36 374.60Z" fill="#a2a2a2" stroke="#a2a2a2" stroke-width="0.9"/>
<path d="M242.36 374.60L240.65 374.00" stroke="#d8d8d8" stroke-width="1.1" stroke-linecap="round" fill="none"/>
<path d="M277.27 435.72L275.56 436.30L275.56 374.56L277.27 373.97Z" fill="#b2b2b2" stroke="#b2b2b2" stroke-width="0.9"/>
<path d="M277.27 373.97L275.56 374.56" stroke="#d8d8d8" stroke-width="1.1" stroke-linecap="round" fill="none"/>
<path d="M244.10 436.88L242.36 436.34L242.36 374.60L244.10 375.14Z" fill="#a4a4a4" stroke="#a4a4a4" stroke-width="0.9"/>
<path d="M244.10 375.14L242.36 374.60" stroke="#d8d8d8" stroke-width="1.1" stroke-linecap="round" fill="none"/>
<path d="M275.56 436.30L273.81 436.83L273.81 375.09L275.56 374.56Z" fill="#b2b2b2" stroke="#b2b2b2" stroke-width="0.9"/>
<path d="M275.56 374.56L273.81 375.09" stroke="#d8d8d8" stroke-width="1.1" stroke-linecap="round" fill="none"/>
<path d="M245.88 437.36L244.10 436.88L244.10 375.14L245.88 375.62Z" fill="#a6a6a6" stroke="#a6a6a6" stroke-width="0.9"/>
<path d="M245.88 375.62L244.10 375.14" stroke="#d8d8d8" stroke-width="1.1" stroke-linecap="round" fill="none"/>
<path d="M273.81 436.83L272.03 437.30L272.03 375.56L273.81 375.09Z" fill="#b2b2b2" stroke="#b2b2b2" stroke-width="0.9"/>
<path d="M273.81 375.09L272.03 375.56" stroke="#d8d8d8" stroke-width="1.1" stroke-linecap="round" fill="none"/>
<path d="M247.68 437.78L245.88 437.36L245.88 375.62L247.68 376.03Z" fill="#a7a7a7" stroke="#a7a7a7" stroke-width="0.9"/>
<path d="M247.68 376.03L245.88 375.62" stroke="#d8d8d8" stroke-width="1.1" stroke-linecap="round" fill="none"/>
<path d="M272.03 437.30L270.22 437.71L270.22 375.97L272.03 375.56Z" fill="#b2b2b2" stroke="#b2b2b2" stroke-width="0.9"/>
<path d="M272.03 375.56L270.22 375.97" stroke="#d8d8d8" stroke-width="1.1" stroke-linecap="round" fill="none"/>
<path d="M249.52 438.13L247.68 437.78L247.68 376.03L249.52 376.39Z" fill="#a9a9a9" stroke="#a9a9a9" stroke-width="0.9"/>
<path d="M249.52 376.39L247.68 376.03" stroke="#d8d8d8" stroke-width="1.1" stroke-linecap="round" fill="none"/>
<path d="M270.22 437.71L268.38 438.07L268.38 376.32L270.22 375.97Z" fill="#b2b2b2" stroke="#b2b2b2" stroke-width="0.9"/>
<path d="M270.22 375.97L268.38 376.32" stroke="#d8d8d8" stroke-width="1.1" stroke-linecap="round" fill="none"/>
<path d="M251.38 438.42L249.52 438.13L249.52 376.39L251.38 376.67Z" fill="#aaaaaa" stroke="#aaaaaa" stroke-width="0.9"/>
<path d="M251.38 376.67L249.52 376.39" stroke="#d8d8d8" stroke-width="1.1" stroke-linecap="round" fill="none"/>
<path d="M268.38 438.07L266.52 438.36L266.52 376.62L268.38 376.32Z" fill="#b2b2b2" stroke="#b2b2b2" stroke-width="0.9"/>
<path d="M268.38 376.32L266.52 376.62" stroke="#d8d8d8" stroke-width="1.1" stroke-linecap="round" fill="none"/>
<path d="M253.25 438.64L251.38 438.42L251.38 376.67L253.25 376.90Z" fill="#acacac" stroke="#acacac" stroke-width="0.9"/>
<path d="M253.25 376.90L251.38 376.67" stroke="#d8d8d8" stroke-width="1.1" stroke-linecap="round" fill="none"/>
<path d="M266.52 438.36L264.64 438.59L264.64 376.85L266.52 376.62Z" fill="#b2b2b2" stroke="#b2b2b2" stroke-width="0.9"/>
<path d="M266.52 376.62L264.64 376.85" stroke="#d8d8d8" stroke-width="1.1" stroke-linecap="round" fill="none"/>
<path d="M255.14 438.79L253.25 438.64L253.25 376.90L255.14 377.05Z" fill="#adadad" stroke="#adadad" stroke-width="0.9"/>
<path d="M255.14 377.05L253.25 376.90" stroke="#d8d8d8" stroke-width="1.1" stroke-linecap="round" fill="none"/>
<path d="M264.64 438.59L262.75 438.76L262.75 377.02L264.64 376.85Z" fill="#b1b1b1" stroke="#b1b1b1" stroke-width="0.9"/>
<path d="M264.64 376.85L262.75 377.02" stroke="#d8d8d8" stroke-width="1.1" stroke-linecap="round" fill="none"/>
<path d="M257.04 438.88L255.14 438.79L255.14 377.05L257.04 377.14Z" fill="#aeaeae" stroke="#aeaeae" stroke-width="0.9"/>
<path d="M257.04 377.14L255.14 377.05" stroke="#d8d8d8" stroke-width="1.1" stroke-linecap="round" fill="none"/>
<path d="M262.75 438.76L260.85 438.87L260.85 377.13L262.75 377.02Z" fill="#b1b1b1" stroke="#b1b1b1" stroke-width="0.9"/>
<path d="M262.75 377.02L260.85 377.13" stroke="#d8d8d8" stroke-width="1.1" stroke-linecap="round" fill="none"/>
<path d="M258.94 438.91L257.04 438.88L257.04 377.14L258.94 377.17Z" fill="#afafaf" stroke="#afafaf" stroke-width="0.9"/>
<path d="M258.94 377.17L257.04 377.14" stroke="#d8d8d8" stroke-width="1.1" stroke-linecap="round" fill="none"/>
<path d="M260.85 438.87L258.94 438.91L258.94 377.17L260.85 377.13Z" fill="#b0b0b0" stroke="#b0b0b0" stroke-width="0.9"/>
<path d="M260.85 377.13L258.94 377.17" stroke="#d8d8d8" stroke-width="1.1" stroke-linecap="round" fill="none"/>
</g>
<g id="ann">
<g fill="none" stroke="#000" stroke-linecap="round" stroke-linejoin="round">
<g stroke-width="3.9">
<path d="M93.4 136.8V86.7H109Q116.9 86.7 116.9 95V105Q116.9 113 109 113H93.4M104.5 113L117.3 136.8"/>
<path d="M128.1 98.4L140.8 86.8V136.9"/>
<path d="M152 87.6H163Q170.4 87.6 170.4 95V101.5Q170.4 109.3 163 109.3H159.5M163 109.3Q172 109.3 172 117V128.5Q172 136.3 163 136.3H152"/>
<path d="M204.4 86.9L195.6 125.6H220.6M211.5 113.8V137.3"/>
<path d="M230.6 98.1L243.5 86.9V137.3"/>
</g>
<circle cx="184" cy="136.7" r="2.1" fill="#000" stroke="none"/>
<g stroke-width="4.1">
<path d="M72.5 173.3V167.5H98.3L85 216.7"/>
<path d="M132.5 216.7V181.7L144.7 199.2L156.7 181.7V216.7"/>
<path d="M188.6 216.1H175Q168.8 216.1 168.8 210V188Q168.8 181.7 175 181.7H182Q187.8 181.7 187.8 188V199.2H168.8"/>
<path d="M220.1 181.7H206.5Q200.3 181.7 200.3 188V210Q200.3 216.1 206.5 216.1H219.5"/>
<path d="M231.7 216.7V181.7H262.5V216.7M247.5 181.7V216.7"/>
</g>
<path d="M70.3 152H270L271.6 205" stroke-width="1.4"/>
<path d="M271.8 208L272.6 237" stroke-width="1.9" stroke-linecap="butt"/>
<!-- 30 text -->
<g stroke-width="3.5">
<path d="M462.7 248.9L500.7 256.9A8.3 8.3 0 0 1 497.3 273.1L459.3 265.1A8.3 8.3 0 0 1 462.7 248.9Z"/>
<path d="M453.3 287.8V281Q455 276.2 462 276.2Q474 277 477.1 281.5V286.7M477.1 281.5Q480 278.5 487 278.5Q499 279.5 504 285V297.8"/>
</g>
<!-- 90 text -->
<g stroke-width="3.6">
<path d="M276.8 470V456Q276.8 453.6 272 453.6H267Q256 454 256 462V467.5Q256.3 472.6 262 472.6H270Q276.8 472.2 276.8 467M276.8 470Q276 481 263.2 490"/>
<path d="M289.2 475V456Q289.2 447 302 444.6Q310.4 443.2 310.4 450V470Q310.4 478.5 297 480Q289.2 481 289.2 475Z"/>
</g>
<!-- extension lines -->


<path d="M521.3 256.7L520 321M518 416L516.5 474" stroke-width="1.3"/>
<path d="M519 354L518 416" stroke-width="1"/>
<!-- dashed lines -->
<path d="M216 513.5L360 475.5" stroke-width="1.8" stroke-dasharray="3 2.8"/>
<path d="M364 324.5L536 357.5" stroke-width="2" stroke-linecap="round" stroke-dasharray="3.2 5.4"/>
<path d="M380 388L536 419" stroke-width="2" stroke-linecap="round" stroke-dasharray="3.2 5.4"/>
</g>
<g fill="#000" stroke="none">
<path d="M172.3 524.7L223 504.7L216.3 514L223 518.7Z"/>
<path d="M401.7 463.7L353 469.7L360 475L353 484Z"/>
<path d="M510.2 313.4L520 321.6L531.1 317.5L518.9 353.6Z"/>
<path d="M517.9 416L506.3 451.3L516.3 447.3L527 455.3Z"/>
<path d="M260 180L271 186L280.8 179.2L271.7 211.7Z"/>
</g>

</g>
</svg>
</body></html>
